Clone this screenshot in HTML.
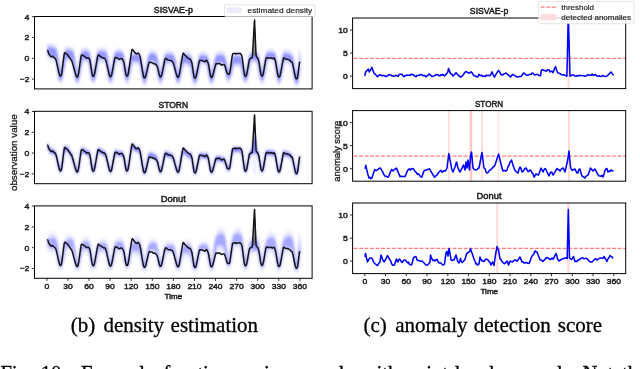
<!DOCTYPE html><html><head><meta charset="utf-8"><style>html,body{margin:0;padding:0;background:#fff;width:640px;height:369px;overflow:hidden}svg{display:block;will-change:transform}</style></head><body>
<svg width="640" height="369" viewBox="0 0 640 369" font-family="Liberation Sans, sans-serif">
<rect width="640" height="369" fill="#fff"/>
<defs><filter id="bl" x="-5%" y="-20%" width="110%" height="140%"><feGaussianBlur stdDeviation="0.9"/></filter></defs>
<g filter="url(#bl)">
<path d="M47.3,42.8 L48.3,42.8 L49.3,42.8 L50.3,42.8 L51.3,42.8 L52.3,43.0 L53.3,43.3 L54.3,43.6 L55.3,44.0 L56.3,45.1 L57.3,47.9 L58.3,52.7 L59.3,59.7 L60.3,67.2 L61.3,64.7 L62.3,58.5 L63.3,52.8 L64.3,48.8 L65.3,46.5 L66.3,45.7 L67.3,45.6 L68.3,45.6 L69.3,45.7 L70.3,45.9 L71.3,46.2 L72.3,46.6 L73.3,48.1 L74.3,51.2 L75.3,56.4 L76.3,63.6 L77.3,69.7 L78.3,64.0 L79.3,57.9 L80.3,52.6 L81.3,49.3 L82.3,47.4 L83.3,46.9 L84.3,46.8 L85.3,46.7 L86.3,46.8 L87.3,47.0 L88.3,47.3 L89.3,48.5 L90.3,51.4 L91.3,56.1 L92.3,62.8 L93.3,69.1 L94.3,64.2 L95.3,58.2 L96.3,52.9 L97.3,49.5 L98.3,47.5 L99.3,47.0 L100.3,46.8 L101.3,46.7 L102.3,46.7 L103.3,46.8 L104.3,47.0 L105.3,47.2 L106.3,48.2 L107.3,50.7 L108.3,55.1 L109.3,61.5 L110.3,68.3 L111.3,65.8 L112.3,59.9 L113.3,54.5 L114.3,50.8 L115.3,48.7 L116.3,47.9 L117.3,47.8 L118.3,47.8 L119.3,47.8 L120.3,48.0 L121.3,48.2 L122.3,48.6 L123.3,50.2 L124.3,53.3 L125.3,58.4 L126.3,65.0 L127.3,68.5 L128.3,63.7 L129.3,58.7 L130.3,54.5 L131.3,51.9 L132.3,50.6 L133.3,50.4 L134.3,50.3 L135.3,50.3 L136.3,50.3 L137.3,50.5 L138.3,50.7 L139.3,50.9 L140.3,51.8 L141.3,54.0 L142.3,58.1 L143.3,63.9 L144.3,70.0 L145.3,67.2 L146.3,61.5 L147.3,56.1 L148.3,52.4 L149.3,50.3 L150.3,49.5 L151.3,49.4 L152.3,49.3 L153.3,49.4 L154.3,49.6 L155.3,49.9 L156.3,50.8 L157.3,53.1 L158.3,57.2 L159.3,63.0 L160.3,69.0 L161.3,66.7 L162.3,61.4 L163.3,56.3 L164.3,52.8 L165.3,50.7 L166.3,50.0 L167.3,49.9 L168.3,49.8 L169.3,49.8 L170.3,49.9 L171.3,50.1 L172.3,50.3 L173.3,50.7 L174.3,52.3 L175.3,55.4 L176.3,60.4 L177.3,66.6 L178.3,69.6 L179.3,64.4 L180.3,59.1 L181.3,54.7 L182.3,51.9 L183.3,50.5 L184.3,50.3 L185.3,50.3 L186.3,50.3 L187.3,50.5 L188.3,50.8 L189.3,51.2 L190.3,51.7 L191.3,53.4 L192.3,56.6 L193.3,61.5 L194.3,67.5 L195.3,70.3 L196.3,65.1 L197.3,59.7 L198.3,55.3 L199.3,52.7 L200.3,51.4 L201.3,51.1 L202.3,51.1 L203.3,51.1 L204.3,51.2 L205.3,51.4 L206.3,51.6 L207.3,52.5 L208.3,54.6 L209.3,58.5 L210.3,64.0 L211.3,69.7 L212.3,67.4 L213.3,62.2 L214.3,57.2 L215.3,53.7 L216.3,51.7 L217.3,50.9 L218.3,50.8 L219.3,50.6 L220.3,50.5 L221.3,50.6 L222.3,50.8 L223.3,51.0 L224.3,51.8 L225.3,53.9 L226.3,57.5 L227.3,62.6 L228.3,67.5 L229.3,65.9 L230.3,61.6 L231.3,57.5 L232.3,54.5 L233.3,52.6 L234.3,51.9 L235.3,51.8 L236.3,51.6 L237.3,51.5 L238.3,51.6 L239.3,51.8 L240.3,52.0 L241.3,52.8 L242.3,54.9 L243.3,58.6 L244.3,63.8 L245.3,68.9 L246.3,66.1 L247.3,60.8 L248.3,55.7 L249.3,52.2 L250.3,50.3 L251.3,49.5 L252.3,49.4 L253.3,49.3 L254.3,49.2 L255.3,49.4 L256.3,49.5 L257.3,49.9 L258.3,51.4 L259.3,54.3 L260.3,59.2 L261.3,65.4 L262.3,68.1 L263.3,62.7 L264.3,57.1 L265.3,52.7 L266.3,50.1 L267.3,48.7 L268.3,48.5 L269.3,48.4 L270.3,48.3 L271.3,48.3 L272.3,48.5 L273.3,48.6 L274.3,48.9 L275.3,50.4 L276.3,53.5 L277.3,58.7 L278.3,65.5 L279.3,69.0 L280.3,63.2 L281.3,57.4 L282.3,52.8 L283.3,50.0 L284.3,48.7 L285.3,48.6 L286.3,48.9 L287.3,49.1 L288.3,49.4 L289.3,49.8 L290.3,50.3 L291.3,50.8 L292.3,51.9 L293.3,54.4 L294.3,58.6 L295.3,64.5 L296.3,70.8 L297.3,67.0 L298.3,61.8 L299.3,59.1 L299.8,58.8 L299.8,78.5 L299.3,81.2 L298.3,85.2 L297.3,87.3 L296.3,87.7 L295.3,86.7 L294.3,83.9 L293.3,79.2 L292.3,73.0 L291.3,67.1 L290.3,66.0 L289.3,65.7 L288.3,65.3 L287.3,64.9 L286.3,64.3 L285.3,63.7 L284.3,65.5 L283.3,71.4 L282.3,77.3 L281.3,81.9 L280.3,84.7 L279.3,85.9 L278.3,85.6 L277.3,83.6 L276.3,79.6 L275.3,73.6 L274.3,66.4 L273.3,62.2 L272.3,62.2 L271.3,62.2 L270.3,62.1 L269.3,61.9 L268.3,61.7 L267.3,64.5 L266.3,70.5 L265.3,76.3 L264.3,80.9 L263.3,83.7 L262.3,84.9 L261.3,84.6 L260.3,82.7 L259.3,79.1 L258.3,73.6 L257.3,67.3 L256.3,64.3 L255.3,64.3 L254.3,64.3 L253.3,64.1 L252.3,63.9 L251.3,63.8 L250.3,68.7 L249.3,74.2 L248.3,79.4 L247.3,82.9 L246.3,84.8 L245.3,85.2 L244.3,84.2 L243.3,81.7 L242.3,77.7 L241.3,72.4 L240.3,68.1 L239.3,68.0 L238.3,68.0 L237.3,68.0 L236.3,67.8 L235.3,67.5 L234.3,67.2 L233.3,70.3 L232.3,74.6 L231.3,78.7 L230.3,81.6 L229.3,83.4 L228.3,83.7 L227.3,82.8 L226.3,80.3 L225.3,76.3 L224.3,71.2 L223.3,67.0 L222.3,67.0 L221.3,67.0 L220.3,67.0 L219.3,66.8 L218.3,66.5 L217.3,66.2 L216.3,70.5 L215.3,75.7 L214.3,80.6 L213.3,84.0 L212.3,85.8 L211.3,86.2 L210.3,85.2 L209.3,82.5 L208.3,78.0 L207.3,72.1 L206.3,66.7 L205.3,66.1 L204.3,66.0 L203.3,65.9 L202.3,65.6 L201.3,65.3 L200.3,67.4 L199.3,73.0 L198.3,78.6 L197.3,83.0 L196.3,85.7 L195.3,86.9 L194.3,86.6 L193.3,84.8 L192.3,81.4 L191.3,76.2 L190.3,70.4 L189.3,68.0 L188.3,67.9 L187.3,67.7 L186.3,67.4 L185.3,67.0 L184.3,66.5 L183.3,67.7 L182.3,72.9 L181.3,78.2 L180.3,82.4 L179.3,85.1 L178.3,86.2 L177.3,85.9 L176.3,84.1 L175.3,80.5 L174.3,75.1 L173.3,69.0 L172.3,66.3 L171.3,66.3 L170.3,66.3 L169.3,66.2 L168.3,65.9 L167.3,65.6 L166.3,65.3 L165.3,69.7 L164.3,75.0 L163.3,80.0 L162.3,83.4 L161.3,85.3 L160.3,85.7 L159.3,84.7 L158.3,82.0 L157.3,77.5 L156.3,71.6 L155.3,66.2 L154.3,65.8 L153.3,65.8 L152.3,65.6 L151.3,65.2 L150.3,64.9 L149.3,69.8 L148.3,75.5 L147.3,80.8 L146.3,84.4 L145.3,86.3 L144.3,86.7 L143.3,85.7 L142.3,82.9 L141.3,78.3 L140.3,72.2 L139.3,66.5 L138.3,65.9 L137.3,65.8 L136.3,65.8 L135.3,65.6 L134.3,65.3 L133.3,65.0 L132.3,66.6 L131.3,71.8 L130.3,77.0 L129.3,81.1 L128.3,83.8 L127.3,84.9 L126.3,84.6 L125.3,82.7 L124.3,78.9 L123.3,73.3 L122.3,66.7 L121.3,63.4 L120.3,63.3 L119.3,63.3 L118.3,63.0 L117.3,62.7 L116.3,62.6 L115.3,67.9 L114.3,74.0 L113.3,79.4 L112.3,83.1 L111.3,85.1 L110.3,85.5 L109.3,84.4 L108.3,81.6 L107.3,76.8 L106.3,70.2 L105.3,64.1 L104.3,63.6 L103.3,63.6 L102.3,63.5 L101.3,63.3 L100.3,63.0 L99.3,62.7 L98.3,66.6 L97.3,72.6 L96.3,78.2 L95.3,82.2 L94.3,84.5 L93.3,85.3 L92.3,84.5 L91.3,82.0 L90.3,77.7 L89.3,71.4 L88.3,65.0 L87.3,63.6 L86.3,63.6 L85.3,63.4 L84.3,63.2 L83.3,62.8 L82.3,66.3 L81.3,72.4 L80.3,78.2 L79.3,82.5 L78.3,85.0 L77.3,86.0 L76.3,85.3 L75.3,83.0 L74.3,78.7 L73.3,72.3 L72.3,65.4 L71.3,63.1 L70.3,63.0 L69.3,62.9 L68.3,62.6 L67.3,62.2 L66.3,61.8 L65.3,67.0 L64.3,73.2 L63.3,78.7 L62.3,82.5 L61.3,84.5 L60.3,84.9 L59.3,83.8 L58.3,80.9 L57.3,75.8 L56.3,68.8 L55.3,62.2 L54.3,61.5 L53.3,61.4 L52.3,61.2 L51.3,60.9 L50.3,60.5 L49.3,60.1 L48.3,59.6 L47.3,59.3Z" fill="#3a3aff" fill-opacity="0.09" transform="translate(0,0.0)"/>
<path d="M47.3,45.0 L48.3,45.0 L49.3,45.0 L50.3,45.0 L51.3,45.0 L52.3,45.2 L53.3,45.5 L54.3,45.8 L55.3,46.2 L56.3,47.3 L57.3,50.2 L58.3,55.4 L59.3,62.9 L60.3,69.9 L61.3,67.5 L62.3,61.3 L63.3,55.3 L64.3,51.1 L65.3,48.8 L66.3,47.9 L67.3,47.8 L68.3,47.8 L69.3,47.9 L70.3,48.1 L71.3,48.4 L72.3,48.8 L73.3,50.3 L74.3,53.8 L75.3,59.3 L76.3,66.6 L77.3,72.2 L78.3,66.7 L79.3,60.6 L80.3,55.1 L81.3,51.6 L82.3,49.6 L83.3,49.1 L84.3,49.0 L85.3,48.9 L86.3,49.0 L87.3,49.2 L88.3,49.5 L89.3,50.8 L90.3,53.8 L91.3,58.8 L92.3,65.7 L93.3,71.6 L94.3,66.9 L95.3,60.9 L96.3,55.4 L97.3,51.8 L98.3,49.8 L99.3,49.2 L100.3,49.0 L101.3,48.9 L102.3,48.9 L103.3,49.0 L104.3,49.2 L105.3,49.4 L106.3,50.5 L107.3,53.0 L108.3,57.7 L109.3,64.5 L110.3,70.9 L111.3,68.5 L112.3,62.6 L113.3,56.9 L114.3,53.0 L115.3,50.9 L116.3,50.1 L117.3,50.0 L118.3,50.0 L119.3,50.0 L120.3,50.2 L121.3,50.4 L122.3,50.8 L123.3,52.5 L124.3,55.8 L125.3,61.3 L126.3,67.8 L127.3,70.9 L128.3,66.2 L129.3,61.1 L130.3,56.8 L131.3,54.1 L132.3,52.8 L133.3,52.6 L134.3,52.5 L135.3,52.5 L136.3,52.5 L137.3,52.7 L138.3,52.9 L139.3,53.1 L140.3,54.0 L141.3,56.3 L142.3,60.5 L143.3,66.7 L144.3,72.4 L145.3,69.8 L146.3,64.1 L147.3,58.5 L148.3,54.7 L149.3,52.5 L150.3,51.7 L151.3,51.6 L152.3,51.5 L153.3,51.6 L154.3,51.8 L155.3,52.1 L156.3,53.0 L157.3,55.4 L158.3,59.7 L159.3,65.8 L160.3,71.5 L161.3,69.2 L162.3,63.9 L163.3,58.7 L164.3,55.1 L165.3,53.0 L166.3,52.2 L167.3,52.1 L168.3,52.0 L169.3,52.0 L170.3,52.1 L171.3,52.3 L172.3,52.5 L173.3,52.9 L174.3,54.5 L175.3,57.9 L176.3,63.2 L177.3,69.4 L178.3,72.0 L179.3,67.0 L180.3,61.6 L181.3,57.0 L182.3,54.1 L183.3,52.7 L184.3,52.5 L185.3,52.5 L186.3,52.5 L187.3,52.7 L188.3,53.0 L189.3,53.4 L190.3,53.9 L191.3,55.6 L192.3,59.0 L193.3,64.2 L194.3,70.2 L195.3,72.7 L196.3,67.6 L197.3,62.2 L198.3,57.7 L199.3,54.9 L200.3,53.6 L201.3,53.3 L202.3,53.3 L203.3,53.3 L204.3,53.4 L205.3,53.6 L206.3,53.8 L207.3,54.7 L208.3,56.9 L209.3,60.9 L210.3,66.7 L211.3,72.1 L212.3,69.9 L213.3,64.7 L214.3,59.6 L215.3,56.0 L216.3,53.9 L217.3,53.1 L218.3,53.0 L219.3,52.8 L220.3,52.7 L221.3,52.8 L222.3,53.0 L223.3,53.2 L224.3,54.0 L225.3,56.2 L226.3,60.0 L227.3,65.1 L228.3,69.9 L229.3,68.3 L230.3,64.1 L231.3,59.9 L232.3,56.7 L233.3,54.8 L234.3,54.1 L235.3,54.0 L236.3,53.8 L237.3,53.7 L238.3,53.8 L239.3,54.0 L240.3,54.2 L241.3,55.0 L242.3,57.3 L243.3,61.1 L244.3,66.4 L245.3,71.3 L246.3,68.7 L247.3,63.3 L248.3,58.1 L249.3,54.5 L250.3,52.5 L251.3,51.7 L252.3,51.6 L253.3,51.5 L254.3,51.4 L255.3,51.6 L256.3,51.7 L257.3,52.1 L258.3,53.6 L259.3,56.8 L260.3,61.9 L261.3,68.1 L262.3,70.6 L263.3,65.3 L264.3,59.7 L265.3,55.0 L266.3,52.3 L267.3,50.9 L268.3,50.7 L269.3,50.6 L270.3,50.5 L271.3,50.5 L272.3,50.7 L273.3,50.8 L274.3,51.1 L275.3,52.6 L276.3,55.9 L277.3,61.6 L278.3,68.5 L279.3,71.4 L280.3,65.9 L281.3,60.1 L282.3,55.2 L283.3,52.2 L284.3,50.9 L285.3,50.8 L286.3,51.1 L287.3,51.3 L288.3,51.6 L289.3,52.0 L290.3,52.5 L291.3,53.0 L292.3,54.1 L293.3,56.6 L294.3,61.1 L295.3,67.4 L296.3,73.3 L297.3,69.8 L298.3,64.3 L299.3,61.3 L299.8,61.0 L299.8,75.8 L299.3,78.7 L298.3,82.9 L297.3,85.1 L296.3,85.5 L295.3,84.4 L294.3,81.5 L293.3,76.6 L292.3,70.1 L291.3,64.7 L290.3,63.8 L289.3,63.4 L288.3,63.1 L287.3,62.6 L286.3,62.1 L285.3,61.5 L284.3,62.9 L283.3,68.7 L282.3,74.7 L281.3,79.5 L280.3,82.5 L279.3,83.7 L278.3,83.4 L277.3,81.3 L276.3,77.1 L275.3,70.6 L274.3,63.6 L273.3,60.0 L272.3,60.0 L271.3,60.0 L270.3,59.9 L269.3,59.7 L268.3,59.5 L267.3,62.0 L266.3,67.8 L265.3,73.7 L264.3,78.5 L263.3,81.5 L262.3,82.7 L261.3,82.4 L260.3,80.4 L259.3,76.6 L258.3,70.8 L257.3,64.7 L256.3,62.1 L255.3,62.1 L254.3,62.1 L253.3,61.9 L252.3,61.7 L251.3,61.6 L250.3,66.1 L249.3,71.6 L248.3,76.9 L247.3,80.6 L246.3,82.6 L245.3,83.0 L244.3,82.0 L243.3,79.4 L242.3,75.2 L241.3,69.8 L240.3,65.8 L239.3,65.8 L238.3,65.8 L237.3,65.8 L236.3,65.6 L235.3,65.3 L234.3,65.0 L233.3,67.8 L232.3,72.1 L231.3,76.3 L230.3,79.4 L229.3,81.2 L228.3,81.5 L227.3,80.5 L226.3,78.0 L225.3,73.8 L224.3,68.6 L223.3,64.8 L222.3,64.8 L221.3,64.8 L220.3,64.8 L219.3,64.6 L218.3,64.3 L217.3,64.0 L216.3,67.9 L215.3,73.2 L214.3,78.1 L213.3,81.7 L212.3,83.6 L211.3,84.0 L210.3,83.0 L209.3,80.1 L208.3,75.5 L207.3,69.4 L206.3,64.4 L205.3,63.9 L204.3,63.8 L203.3,63.7 L202.3,63.4 L201.3,63.1 L200.3,64.9 L199.3,70.4 L198.3,76.1 L197.3,80.6 L196.3,83.5 L195.3,84.7 L194.3,84.4 L193.3,82.5 L192.3,78.9 L191.3,73.5 L190.3,67.9 L189.3,65.8 L188.3,65.7 L187.3,65.5 L186.3,65.2 L185.3,64.8 L184.3,64.3 L183.3,65.3 L182.3,70.4 L181.3,75.7 L180.3,80.1 L179.3,82.9 L178.3,84.0 L177.3,83.7 L176.3,81.8 L175.3,78.0 L174.3,72.4 L173.3,66.4 L172.3,64.1 L171.3,64.1 L170.3,64.1 L169.3,64.0 L168.3,63.7 L167.3,63.4 L166.3,63.1 L165.3,67.1 L164.3,72.5 L163.3,77.5 L162.3,81.2 L161.3,83.1 L160.3,83.5 L159.3,82.5 L158.3,79.6 L157.3,74.9 L156.3,68.8 L155.3,63.9 L154.3,63.6 L153.3,63.6 L152.3,63.4 L151.3,63.0 L150.3,62.6 L149.3,67.1 L148.3,72.9 L147.3,78.3 L146.3,82.1 L145.3,84.1 L144.3,84.5 L143.3,83.4 L142.3,80.5 L141.3,75.7 L140.3,69.4 L139.3,64.2 L138.3,63.7 L137.3,63.6 L136.3,63.6 L135.3,63.4 L134.3,63.1 L133.3,62.8 L132.3,64.2 L131.3,69.3 L130.3,74.5 L129.3,78.8 L128.3,81.6 L127.3,82.7 L126.3,82.4 L125.3,80.4 L124.3,76.5 L123.3,70.4 L122.3,64.0 L121.3,61.2 L120.3,61.1 L119.3,61.1 L118.3,60.8 L117.3,60.5 L116.3,60.4 L115.3,65.2 L114.3,71.2 L113.3,76.9 L112.3,80.8 L111.3,82.9 L110.3,83.3 L109.3,82.2 L108.3,79.2 L107.3,74.1 L106.3,67.3 L105.3,61.7 L104.3,61.4 L103.3,61.4 L102.3,61.3 L101.3,61.1 L100.3,60.8 L99.3,60.5 L98.3,63.9 L97.3,69.9 L96.3,75.7 L95.3,80.0 L94.3,82.3 L93.3,83.1 L92.3,82.3 L91.3,79.7 L90.3,75.1 L89.3,68.5 L88.3,62.5 L87.3,61.4 L86.3,61.4 L85.3,61.2 L84.3,60.9 L83.3,60.6 L82.3,63.5 L81.3,69.6 L80.3,75.7 L79.3,80.2 L78.3,82.8 L77.3,83.8 L76.3,83.1 L75.3,80.7 L74.3,76.1 L73.3,69.3 L72.3,62.7 L71.3,60.9 L70.3,60.8 L69.3,60.7 L68.3,60.4 L67.3,60.0 L66.3,59.5 L65.3,64.3 L64.3,70.4 L63.3,76.2 L62.3,80.2 L61.3,82.3 L60.3,82.7 L59.3,81.6 L58.3,78.4 L57.3,73.0 L56.3,65.7 L55.3,59.8 L54.3,59.3 L53.3,59.2 L52.3,59.0 L51.3,58.7 L50.3,58.3 L49.3,57.9 L48.3,57.4 L47.3,57.1Z" fill="#3a3aff" fill-opacity="0.15" transform="translate(0,0.0)"/>
<path d="M47.3,47.5 L48.3,47.5 L49.3,47.5 L50.3,47.5 L51.3,47.6 L52.3,47.8 L53.3,48.1 L54.3,48.4 L55.3,48.7 L56.3,49.8 L57.3,52.9 L58.3,58.5 L59.3,66.1 L60.3,72.5 L61.3,70.2 L62.3,64.1 L63.3,57.9 L64.3,53.5 L65.3,51.1 L66.3,50.3 L67.3,50.3 L68.3,50.3 L69.3,50.4 L70.3,50.6 L71.3,50.9 L72.3,51.2 L73.3,52.8 L74.3,56.3 L75.3,62.5 L76.3,69.7 L77.3,74.5 L78.3,69.6 L79.3,63.4 L80.3,57.5 L81.3,53.9 L82.3,52.0 L83.3,51.5 L84.3,51.4 L85.3,51.4 L86.3,51.4 L87.3,51.7 L88.3,51.9 L89.3,53.2 L90.3,56.2 L91.3,61.9 L92.3,68.7 L93.3,74.0 L94.3,69.7 L95.3,63.7 L96.3,57.9 L97.3,54.1 L98.3,52.1 L99.3,51.5 L100.3,51.4 L101.3,51.4 L102.3,51.4 L103.3,51.5 L104.3,51.7 L105.3,51.9 L106.3,52.8 L107.3,55.5 L108.3,60.6 L109.3,67.5 L110.3,73.4 L111.3,71.1 L112.3,65.3 L113.3,59.4 L114.3,55.2 L115.3,53.1 L116.3,52.4 L117.3,52.3 L118.3,52.3 L119.3,52.4 L120.3,52.5 L121.3,52.8 L122.3,53.1 L123.3,54.7 L124.3,58.2 L125.3,64.2 L126.3,70.5 L127.3,73.2 L128.3,68.7 L129.3,63.7 L130.3,59.0 L131.3,56.3 L132.3,55.1 L133.3,54.9 L134.3,54.8 L135.3,54.8 L136.3,54.9 L137.3,55.0 L138.3,55.2 L139.3,55.4 L140.3,56.3 L141.3,58.6 L142.3,63.2 L143.3,69.5 L144.3,74.8 L145.3,72.4 L146.3,66.8 L147.3,61.1 L148.3,57.0 L149.3,54.8 L150.3,54.0 L151.3,53.9 L152.3,53.9 L153.3,54.0 L154.3,54.2 L155.3,54.5 L156.3,55.4 L157.3,57.9 L158.3,62.4 L159.3,68.6 L160.3,73.9 L161.3,71.8 L162.3,66.5 L163.3,61.2 L164.3,57.4 L165.3,55.3 L166.3,54.5 L167.3,54.5 L168.3,54.4 L169.3,54.4 L170.3,54.5 L171.3,54.7 L172.3,54.9 L173.3,55.3 L174.3,56.9 L175.3,60.3 L176.3,66.0 L177.3,72.0 L178.3,74.3 L179.3,69.6 L180.3,64.3 L181.3,59.4 L182.3,56.4 L183.3,55.1 L184.3,54.9 L185.3,54.9 L186.3,55.0 L187.3,55.2 L188.3,55.5 L189.3,55.9 L190.3,56.4 L191.3,58.1 L192.3,61.5 L193.3,67.1 L194.3,72.9 L195.3,75.0 L196.3,70.3 L197.3,64.8 L198.3,59.9 L199.3,57.0 L200.3,55.8 L201.3,55.6 L202.3,55.6 L203.3,55.6 L204.3,55.7 L205.3,55.9 L206.3,56.1 L207.3,56.9 L208.3,59.1 L209.3,63.5 L210.3,69.5 L211.3,74.5 L212.3,72.4 L213.3,67.3 L214.3,62.1 L215.3,58.3 L216.3,56.2 L217.3,55.5 L218.3,55.3 L219.3,55.2 L220.3,55.2 L221.3,55.2 L222.3,55.4 L223.3,55.6 L224.3,56.4 L225.3,58.6 L226.3,62.5 L227.3,67.8 L228.3,72.2 L229.3,70.6 L230.3,66.4 L231.3,62.2 L232.3,59.0 L233.3,57.1 L234.3,56.5 L235.3,56.3 L236.3,56.2 L237.3,56.2 L238.3,56.2 L239.3,56.4 L240.3,56.6 L241.3,57.4 L242.3,59.7 L243.3,63.6 L244.3,69.1 L245.3,73.7 L246.3,71.2 L247.3,65.9 L248.3,60.5 L249.3,56.6 L250.3,54.7 L251.3,54.0 L252.3,53.9 L253.3,53.8 L254.3,53.8 L255.3,53.9 L256.3,54.0 L257.3,54.4 L258.3,55.8 L259.3,59.1 L260.3,64.8 L261.3,70.8 L262.3,72.9 L263.3,68.0 L264.3,62.3 L265.3,57.2 L266.3,54.3 L267.3,53.1 L268.3,52.9 L269.3,52.8 L270.3,52.7 L271.3,52.8 L272.3,52.9 L273.3,53.0 L274.3,53.3 L275.3,54.7 L276.3,58.2 L277.3,64.6 L278.3,71.2 L279.3,73.8 L280.3,68.7 L281.3,62.8 L282.3,57.4 L283.3,54.5 L284.3,53.2 L285.3,53.2 L286.3,53.4 L287.3,53.7 L288.3,54.0 L289.3,54.4 L290.3,54.9 L291.3,55.4 L292.3,56.4 L293.3,59.0 L294.3,63.8 L295.3,70.3 L296.3,75.8 L297.3,72.7 L298.3,66.7 L299.3,63.6 L299.8,63.3 L299.8,72.8 L299.3,76.0 L298.3,80.6 L297.3,82.8 L296.3,83.2 L295.3,82.1 L294.3,79.2 L293.3,73.7 L292.3,67.2 L291.3,62.4 L290.3,61.4 L289.3,61.1 L288.3,60.7 L287.3,60.3 L286.3,59.7 L285.3,59.2 L284.3,60.5 L283.3,66.0 L282.3,71.9 L281.3,77.2 L280.3,80.2 L279.3,81.4 L278.3,81.1 L277.3,79.0 L276.3,74.4 L275.3,67.5 L274.3,60.9 L273.3,57.8 L272.3,57.8 L271.3,57.8 L270.3,57.7 L269.3,57.5 L268.3,57.3 L267.3,59.6 L266.3,65.0 L265.3,71.0 L264.3,76.2 L263.3,79.2 L262.3,80.4 L261.3,80.1 L260.3,78.1 L259.3,74.1 L258.3,68.0 L257.3,62.2 L256.3,59.8 L255.3,59.8 L254.3,59.8 L253.3,59.6 L252.3,59.4 L251.3,59.4 L250.3,63.4 L249.3,69.0 L248.3,74.4 L247.3,78.3 L246.3,80.3 L245.3,80.7 L244.3,79.7 L243.3,77.1 L242.3,72.6 L241.3,67.2 L240.3,63.5 L239.3,63.3 L238.3,63.4 L237.3,63.3 L236.3,63.2 L235.3,62.9 L234.3,62.7 L233.3,65.4 L232.3,69.7 L231.3,74.0 L230.3,77.1 L229.3,78.9 L228.3,79.2 L227.3,78.2 L226.3,75.7 L225.3,71.2 L224.3,66.0 L223.3,62.4 L222.3,62.3 L221.3,62.4 L220.3,62.3 L219.3,62.2 L218.3,61.9 L217.3,61.7 L216.3,65.3 L215.3,70.6 L214.3,75.7 L213.3,79.3 L212.3,81.3 L211.3,81.7 L210.3,80.7 L209.3,77.8 L208.3,72.7 L207.3,66.6 L206.3,62.1 L205.3,61.6 L204.3,61.5 L203.3,61.4 L202.3,61.1 L201.3,60.8 L200.3,62.6 L199.3,67.8 L198.3,73.4 L197.3,78.3 L196.3,81.2 L195.3,82.4 L194.3,82.1 L193.3,80.2 L192.3,76.4 L191.3,70.8 L190.3,65.4 L189.3,63.4 L188.3,63.2 L187.3,63.0 L186.3,62.7 L185.3,62.4 L184.3,61.9 L183.3,62.9 L182.3,67.8 L181.3,73.1 L180.3,77.7 L179.3,80.6 L178.3,81.7 L177.3,81.4 L176.3,79.4 L175.3,75.5 L174.3,69.5 L173.3,63.9 L172.3,61.7 L171.3,61.7 L170.3,61.7 L169.3,61.5 L168.3,61.3 L167.3,61.0 L166.3,60.8 L165.3,64.5 L164.3,69.8 L163.3,75.1 L162.3,78.8 L161.3,80.8 L160.3,81.2 L159.3,80.2 L158.3,77.3 L157.3,72.1 L156.3,66.0 L155.3,61.6 L154.3,61.2 L153.3,61.1 L152.3,61.0 L151.3,60.6 L150.3,60.4 L149.3,64.4 L148.3,70.1 L147.3,75.8 L146.3,79.7 L145.3,81.8 L144.3,82.2 L143.3,81.2 L142.3,78.2 L141.3,72.8 L140.3,66.5 L139.3,61.9 L138.3,61.3 L137.3,61.3 L136.3,61.2 L135.3,61.0 L134.3,60.8 L133.3,60.5 L132.3,62.0 L131.3,66.7 L130.3,71.9 L129.3,76.5 L128.3,79.3 L127.3,80.4 L126.3,80.1 L125.3,78.1 L124.3,73.9 L123.3,67.5 L122.3,61.4 L121.3,58.8 L120.3,58.8 L119.3,58.7 L118.3,58.5 L117.3,58.2 L116.3,58.2 L115.3,62.4 L114.3,68.5 L113.3,74.4 L112.3,78.5 L111.3,80.6 L110.3,81.0 L109.3,79.9 L108.3,76.8 L107.3,71.1 L106.3,64.2 L105.3,59.3 L104.3,58.9 L103.3,58.9 L102.3,58.9 L101.3,58.7 L100.3,58.4 L99.3,58.1 L98.3,61.3 L97.3,67.1 L96.3,73.0 L95.3,77.6 L94.3,80.0 L93.3,80.8 L92.3,79.9 L91.3,77.4 L90.3,72.2 L89.3,65.5 L88.3,60.0 L87.3,58.9 L86.3,58.9 L85.3,58.8 L84.3,58.5 L83.3,58.2 L82.3,60.9 L81.3,66.8 L80.3,72.9 L79.3,77.9 L78.3,80.5 L77.3,81.4 L76.3,80.8 L75.3,78.3 L74.3,73.2 L73.3,66.2 L72.3,60.2 L71.3,58.4 L70.3,58.3 L69.3,58.2 L68.3,57.9 L67.3,57.5 L66.3,57.2 L65.3,61.4 L64.3,67.6 L63.3,73.6 L62.3,77.9 L61.3,80.0 L60.3,80.4 L59.3,79.3 L58.3,76.0 L57.3,69.9 L56.3,62.5 L55.3,57.3 L54.3,56.7 L53.3,56.6 L52.3,56.5 L51.3,56.2 L50.3,55.8 L49.3,55.4 L48.3,55.0 L47.3,54.7Z" fill="#3a3aff" fill-opacity="0.4" transform="translate(0,0.0)"/>
<path d="M298.0,64 L299.6,49 L301.0,64Z" fill="#3a3aff" fill-opacity="0.35"/>
<path d="M47.3,45.4 L48.3,44.7 L49.3,43.8 L50.3,42.9 L51.3,42.3 L52.3,42.0 L53.3,42.3 L54.3,42.7 L55.3,43.1 L56.3,44.4 L57.3,47.3 L58.3,52.4 L59.3,59.5 L60.3,66.9 L61.3,64.8 L62.3,58.9 L63.3,53.5 L64.3,49.6 L65.3,47.2 L66.3,46.1 L67.3,45.3 L68.3,44.6 L69.3,44.2 L70.3,44.3 L71.3,44.7 L72.3,45.1 L73.3,46.7 L74.3,50.0 L75.3,55.4 L76.3,62.8 L77.3,69.7 L78.3,64.5 L79.3,59.0 L80.3,54.2 L81.3,51.0 L82.3,49.1 L83.3,48.1 L84.3,47.3 L85.3,46.8 L86.3,46.7 L87.3,47.0 L88.3,47.4 L89.3,48.7 L90.3,51.7 L91.3,56.3 L92.3,62.7 L93.3,69.0 L94.3,65.3 L95.3,60.3 L96.3,55.8 L97.3,52.8 L98.3,51.0 L99.3,50.1 L100.3,49.5 L101.3,48.9 L102.3,48.6 L103.3,48.6 L104.3,48.9 L105.3,49.2 L106.3,50.2 L107.3,52.5 L108.3,56.6 L109.3,62.4 L110.3,68.5 L111.3,66.0 L112.3,60.6 L113.3,55.6 L114.3,52.1 L115.3,49.9 L116.3,48.9 L117.3,48.2 L118.3,47.5 L119.3,47.3 L120.3,47.4 L121.3,47.7 L122.3,48.2 L123.3,49.9 L124.3,53.1 L125.3,58.2 L126.3,64.7 L127.3,68.2 L128.3,63.1 L129.3,57.8 L130.3,53.4 L131.3,50.3 L132.3,48.5 L133.3,47.6 L134.3,46.6 L135.3,45.8 L136.3,45.5 L137.3,45.7 L138.3,46.1 L139.3,46.5 L140.3,47.7 L141.3,50.6 L142.3,55.4 L143.3,62.1 L144.3,69.0 L145.3,67.1 L146.3,61.6 L147.3,56.5 L148.3,52.9 L149.3,50.7 L150.3,49.6 L151.3,48.8 L152.3,48.3 L153.3,48.1 L154.3,48.3 L155.3,48.7 L156.3,49.7 L157.3,52.1 L158.3,56.3 L159.3,62.2 L160.3,68.5 L161.3,67.2 L162.3,62.5 L163.3,58.1 L164.3,55.0 L165.3,53.1 L166.3,52.3 L167.3,51.7 L168.3,51.2 L169.3,50.9 L170.3,50.8 L171.3,51.0 L172.3,51.2 L173.3,51.6 L174.3,53.2 L175.3,56.0 L176.3,60.7 L177.3,66.6 L178.3,69.9 L179.3,65.2 L180.3,60.4 L181.3,56.4 L182.3,53.7 L183.3,52.1 L184.3,51.3 L185.3,50.5 L186.3,49.9 L187.3,49.6 L188.3,49.9 L189.3,50.3 L190.3,50.8 L191.3,52.5 L192.3,55.8 L193.3,60.9 L194.3,67.1 L195.3,70.2 L196.3,65.1 L197.3,59.9 L198.3,55.9 L199.3,53.4 L200.3,52.0 L201.3,51.4 L202.3,50.9 L203.3,50.6 L204.3,50.5 L205.3,50.7 L206.3,51.0 L207.3,51.8 L208.3,54.0 L209.3,57.7 L210.3,63.3 L211.3,69.3 L212.3,64.1 L213.3,56.7 L214.3,49.9 L215.3,45.0 L216.3,41.8 L217.3,40.3 L218.3,39.1 L219.3,37.9 L220.3,37.4 L221.3,37.4 L222.3,37.9 L223.3,38.5 L224.3,39.9 L225.3,43.3 L226.3,49.0 L227.3,56.9 L228.3,65.1 L229.3,62.2 L230.3,55.2 L231.3,48.8 L232.3,44.3 L233.3,41.4 L234.3,40.1 L235.3,39.1 L236.3,38.1 L237.3,37.6 L238.3,37.7 L239.3,38.1 L240.3,38.5 L241.3,39.9 L242.3,43.2 L243.3,48.8 L244.3,57.2 L245.3,66.1 L246.3,65.2 L247.3,59.4 L248.3,54.0 L249.3,50.2 L250.3,47.9 L251.3,46.8 L252.3,46.1 L253.3,45.4 L254.3,45.1 L255.3,45.2 L256.3,45.6 L257.3,46.1 L258.3,47.9 L259.3,51.3 L260.3,56.8 L261.3,63.9 L262.3,67.5 L263.3,61.4 L264.3,55.3 L265.3,50.3 L266.3,46.9 L267.3,44.8 L268.3,43.7 L269.3,42.6 L270.3,41.8 L271.3,41.6 L272.3,41.9 L273.3,42.4 L274.3,43.1 L275.3,45.3 L276.3,49.5 L277.3,55.9 L278.3,63.9 L279.3,68.1 L280.3,61.6 L281.3,55.0 L282.3,49.7 L283.3,46.1 L284.3,43.9 L285.3,42.9 L286.3,41.8 L287.3,40.9 L288.3,40.5 L289.3,40.7 L290.3,41.1 L291.3,41.6 L292.3,43.0 L293.3,46.4 L294.3,52.2 L295.3,60.3 L296.3,68.8 L297.3,64.6 L298.3,58.5 L299.3,55.3 L299.8,55.0 L299.8,76.3 L299.3,79.0 L298.3,82.7 L297.3,84.6 L296.3,85.0 L295.3,84.0 L294.3,81.5 L293.3,76.7 L292.3,69.9 L291.3,64.8 L290.3,65.3 L289.3,65.7 L288.3,65.9 L287.3,65.5 L286.3,64.6 L285.3,63.5 L284.3,63.8 L283.3,69.6 L282.3,75.3 L281.3,79.6 L280.3,82.1 L279.3,83.2 L278.3,82.9 L277.3,81.3 L276.3,77.8 L275.3,72.4 L274.3,66.1 L273.3,65.0 L272.3,65.5 L271.3,65.8 L270.3,65.6 L269.3,64.8 L268.3,63.7 L267.3,63.8 L266.3,69.2 L265.3,74.6 L264.3,78.7 L263.3,81.1 L262.3,82.2 L261.3,81.9 L260.3,80.2 L259.3,76.8 L258.3,71.5 L257.3,65.1 L256.3,62.8 L255.3,63.2 L254.3,63.3 L253.3,63.0 L252.3,62.3 L251.3,61.6 L250.3,66.3 L249.3,72.0 L248.3,77.0 L247.3,80.4 L246.3,82.1 L245.3,82.5 L244.3,81.5 L243.3,78.8 L242.3,73.7 L241.3,66.3 L240.3,59.7 L239.3,60.1 L238.3,60.5 L237.3,60.6 L236.3,60.1 L235.3,59.1 L234.3,58.1 L233.3,63.1 L232.3,69.5 L231.3,75.2 L230.3,78.7 L229.3,80.6 L228.3,81.0 L227.3,80.0 L226.3,77.6 L225.3,73.1 L224.3,66.7 L223.3,62.5 L222.3,63.1 L221.3,63.6 L220.3,63.6 L219.3,63.1 L218.3,61.9 L217.3,60.7 L216.3,65.3 L215.3,71.9 L214.3,77.6 L213.3,81.2 L212.3,83.1 L211.3,83.5 L210.3,82.5 L209.3,80.2 L208.3,76.0 L207.3,70.3 L206.3,64.9 L205.3,64.7 L204.3,64.9 L203.3,64.8 L202.3,64.5 L201.3,64.0 L200.3,66.1 L199.3,71.4 L198.3,76.7 L197.3,80.7 L196.3,83.1 L195.3,84.2 L194.3,83.9 L193.3,82.4 L192.3,79.4 L191.3,74.8 L190.3,69.7 L189.3,68.7 L188.3,69.1 L187.3,69.4 L186.3,69.1 L185.3,68.5 L184.3,67.7 L183.3,68.0 L182.3,72.3 L181.3,76.7 L180.3,80.3 L179.3,82.5 L178.3,83.5 L177.3,83.2 L176.3,81.6 L175.3,78.5 L174.3,73.7 L173.3,68.1 L172.3,66.0 L171.3,66.2 L170.3,66.4 L169.3,66.3 L168.3,66.0 L167.3,65.5 L166.3,64.9 L165.3,68.9 L164.3,73.7 L163.3,78.0 L162.3,81.0 L161.3,82.6 L160.3,83.0 L159.3,82.1 L158.3,79.7 L157.3,75.6 L156.3,69.9 L155.3,65.0 L154.3,65.3 L153.3,65.5 L152.3,65.3 L151.3,64.8 L150.3,64.0 L149.3,68.4 L148.3,73.9 L147.3,78.6 L146.3,81.9 L145.3,83.6 L144.3,84.0 L143.3,83.1 L142.3,80.8 L141.3,76.7 L140.3,71.1 L139.3,67.3 L138.3,67.7 L137.3,68.1 L136.3,68.3 L135.3,68.0 L134.3,67.2 L133.3,66.2 L132.3,66.1 L131.3,70.6 L130.3,75.3 L129.3,79.0 L128.3,81.2 L127.3,82.2 L126.3,81.9 L125.3,80.3 L124.3,77.0 L123.3,72.0 L122.3,66.1 L121.3,64.1 L120.3,64.4 L119.3,64.5 L118.3,64.3 L117.3,63.6 L116.3,62.9 L115.3,67.4 L114.3,72.7 L113.3,77.5 L112.3,80.7 L111.3,82.4 L110.3,82.8 L109.3,81.9 L108.3,79.6 L107.3,75.5 L106.3,70.0 L105.3,65.2 L104.3,65.5 L103.3,65.8 L102.3,65.8 L101.3,65.5 L100.3,64.9 L99.3,64.3 L98.3,67.1 L97.3,72.0 L96.3,76.6 L95.3,80.0 L94.3,81.9 L93.3,82.5 L92.3,81.8 L91.3,79.8 L90.3,76.0 L89.3,70.5 L88.3,65.0 L87.3,64.8 L86.3,65.1 L85.3,65.0 L84.3,64.5 L83.3,63.7 L82.3,66.0 L81.3,71.5 L80.3,76.6 L79.3,80.3 L78.3,82.4 L77.3,83.2 L76.3,82.6 L75.3,80.6 L74.3,76.7 L73.3,70.7 L72.3,64.1 L71.3,62.9 L70.3,63.3 L69.3,63.4 L68.3,63.0 L67.3,62.3 L66.3,61.5 L65.3,66.1 L64.3,71.7 L63.3,76.7 L62.3,80.1 L61.3,81.8 L60.3,82.2 L59.3,81.3 L58.3,78.9 L57.3,74.5 L56.3,68.4 L55.3,63.9 L54.3,64.3 L53.3,64.7 L52.3,65.0 L51.3,64.7 L50.3,64.1 L49.3,63.2 L48.3,62.3 L47.3,61.6Z" fill="#3a3aff" fill-opacity="0.08" transform="translate(0,189.4)"/>
<path d="M47.3,48.4 L48.3,47.9 L49.3,47.2 L50.3,46.5 L51.3,45.9 L52.3,45.7 L53.3,46.0 L54.3,46.3 L55.3,46.6 L56.3,47.8 L57.3,50.7 L58.3,55.7 L59.3,63.0 L60.3,69.9 L61.3,67.7 L62.3,61.9 L63.3,56.1 L64.3,52.3 L65.3,50.0 L66.3,49.0 L67.3,48.4 L68.3,47.8 L69.3,47.5 L70.3,47.6 L71.3,47.9 L72.3,48.2 L73.3,49.8 L74.3,53.1 L75.3,58.7 L76.3,66.3 L77.3,72.4 L78.3,67.4 L79.3,61.8 L80.3,56.8 L81.3,53.6 L82.3,51.9 L83.3,51.1 L84.3,50.4 L85.3,50.0 L86.3,49.9 L87.3,50.2 L88.3,50.5 L89.3,51.8 L90.3,54.6 L91.3,59.4 L92.3,65.9 L93.3,71.6 L94.3,68.0 L95.3,63.0 L96.3,58.3 L97.3,55.3 L98.3,53.7 L99.3,52.9 L100.3,52.4 L101.3,51.9 L102.3,51.7 L103.3,51.8 L104.3,52.0 L105.3,52.2 L106.3,53.1 L107.3,55.4 L108.3,59.4 L109.3,65.5 L110.3,71.2 L111.3,68.8 L112.3,63.4 L113.3,58.1 L114.3,54.6 L115.3,52.6 L116.3,51.7 L117.3,51.1 L118.3,50.6 L119.3,50.4 L120.3,50.5 L121.3,50.8 L122.3,51.2 L123.3,52.8 L124.3,55.9 L125.3,61.3 L126.3,67.8 L127.3,70.8 L128.3,65.9 L129.3,60.7 L130.3,56.3 L131.3,53.3 L132.3,51.6 L133.3,50.8 L134.3,50.1 L135.3,49.5 L136.3,49.2 L137.3,49.3 L138.3,49.6 L139.3,50.0 L140.3,51.1 L141.3,53.9 L142.3,58.7 L143.3,65.5 L144.3,72.0 L145.3,69.9 L146.3,64.4 L147.3,59.1 L148.3,55.5 L149.3,53.4 L150.3,52.5 L151.3,51.8 L152.3,51.4 L153.3,51.2 L154.3,51.4 L155.3,51.7 L156.3,52.6 L157.3,54.9 L158.3,59.1 L159.3,65.4 L160.3,71.3 L161.3,69.8 L162.3,65.1 L163.3,60.5 L164.3,57.4 L165.3,55.7 L166.3,54.9 L167.3,54.5 L168.3,54.1 L169.3,53.8 L170.3,53.8 L171.3,53.9 L172.3,54.1 L173.3,54.5 L174.3,55.9 L175.3,58.7 L176.3,63.7 L177.3,69.6 L178.3,72.3 L179.3,67.9 L180.3,63.1 L181.3,59.1 L182.3,56.5 L183.3,55.0 L184.3,54.3 L185.3,53.7 L186.3,53.2 L187.3,53.0 L188.3,53.2 L189.3,53.5 L190.3,54.0 L191.3,55.6 L192.3,58.9 L193.3,64.0 L194.3,70.1 L195.3,72.7 L196.3,67.8 L197.3,62.6 L198.3,58.2 L199.3,55.8 L200.3,54.5 L201.3,54.1 L202.3,53.7 L203.3,53.4 L204.3,53.4 L205.3,53.5 L206.3,53.7 L207.3,54.5 L208.3,56.5 L209.3,60.4 L210.3,66.3 L211.3,71.9 L212.3,67.5 L213.3,60.2 L214.3,53.1 L215.3,48.1 L216.3,45.2 L217.3,43.7 L218.3,42.8 L219.3,41.9 L220.3,41.4 L221.3,41.4 L222.3,41.9 L223.3,42.3 L224.3,43.6 L225.3,47.0 L226.3,52.6 L227.3,60.7 L228.3,68.3 L229.3,65.4 L230.3,58.5 L231.3,51.8 L232.3,47.2 L233.3,44.5 L234.3,43.3 L235.3,42.5 L236.3,41.7 L237.3,41.3 L238.3,41.4 L239.3,41.7 L240.3,42.1 L241.3,43.3 L242.3,46.6 L243.3,52.4 L244.3,61.2 L245.3,69.4 L246.3,68.1 L247.3,62.3 L248.3,56.6 L249.3,52.9 L250.3,50.7 L251.3,49.7 L252.3,49.1 L253.3,48.6 L254.3,48.3 L255.3,48.4 L256.3,48.7 L257.3,49.2 L258.3,50.9 L259.3,54.3 L260.3,60.2 L261.3,67.2 L262.3,70.2 L263.3,64.5 L264.3,58.4 L265.3,53.3 L266.3,49.9 L267.3,48.0 L268.3,47.1 L269.3,46.3 L270.3,45.6 L271.3,45.4 L272.3,45.7 L273.3,46.1 L274.3,46.7 L275.3,48.8 L276.3,53.0 L277.3,59.6 L278.3,67.4 L279.3,70.9 L280.3,64.8 L281.3,58.3 L282.3,52.8 L283.3,49.3 L284.3,47.2 L285.3,46.3 L286.3,45.5 L287.3,44.8 L288.3,44.4 L289.3,44.6 L290.3,45.0 L291.3,45.3 L292.3,46.7 L293.3,50.0 L294.3,55.8 L295.3,64.2 L296.3,72.1 L297.3,68.3 L298.3,61.6 L299.3,58.4 L299.8,58.1 L299.8,73.1 L299.3,76.2 L298.3,80.2 L297.3,82.0 L296.3,82.4 L295.3,81.5 L294.3,78.9 L293.3,73.6 L292.3,66.4 L291.3,61.1 L290.3,61.4 L289.3,61.8 L288.3,62.0 L287.3,61.6 L286.3,60.9 L285.3,60.1 L284.3,60.8 L283.3,66.6 L282.3,72.5 L281.3,77.1 L280.3,79.6 L279.3,80.6 L278.3,80.3 L277.3,78.8 L276.3,75.2 L275.3,69.1 L274.3,62.7 L273.3,61.4 L272.3,61.7 L271.3,62.0 L270.3,61.8 L269.3,61.1 L268.3,60.3 L267.3,60.9 L266.3,66.3 L265.3,71.8 L264.3,76.2 L263.3,78.6 L262.3,79.6 L261.3,79.3 L260.3,77.8 L259.3,74.2 L258.3,68.3 L257.3,62.0 L256.3,59.7 L255.3,60.0 L254.3,60.1 L253.3,59.8 L252.3,59.3 L251.3,58.7 L250.3,63.4 L249.3,69.1 L248.3,74.5 L247.3,77.9 L246.3,79.5 L245.3,79.9 L244.3,78.9 L243.3,76.3 L242.3,70.5 L241.3,62.6 L240.3,56.3 L239.3,56.5 L238.3,56.8 L237.3,56.9 L236.3,56.5 L235.3,55.7 L234.3,54.9 L233.3,59.9 L232.3,66.4 L231.3,72.5 L230.3,76.3 L229.3,78.0 L228.3,78.4 L227.3,77.5 L226.3,75.0 L225.3,70.0 L224.3,63.3 L223.3,58.7 L222.3,59.1 L221.3,59.6 L220.3,59.6 L219.3,59.1 L218.3,58.2 L217.3,57.3 L216.3,62.0 L215.3,68.6 L214.3,74.9 L213.3,78.7 L212.3,80.5 L211.3,80.9 L210.3,80.0 L209.3,77.7 L208.3,73.3 L207.3,67.3 L206.3,62.3 L205.3,61.9 L204.3,62.0 L203.3,62.0 L202.3,61.7 L201.3,61.3 L200.3,63.5 L199.3,68.7 L198.3,74.1 L197.3,78.3 L196.3,80.6 L195.3,81.6 L194.3,81.3 L193.3,79.9 L192.3,76.8 L191.3,71.9 L190.3,66.7 L189.3,65.5 L188.3,65.8 L187.3,66.0 L186.3,65.8 L185.3,65.3 L184.3,64.7 L183.3,65.3 L182.3,69.7 L181.3,74.2 L180.3,77.9 L179.3,80.0 L178.3,80.9 L177.3,80.6 L176.3,79.2 L175.3,76.0 L174.3,70.8 L173.3,65.3 L172.3,63.1 L171.3,63.3 L170.3,63.4 L169.3,63.4 L168.3,63.1 L167.3,62.7 L166.3,62.4 L165.3,66.3 L164.3,71.1 L163.3,75.6 L162.3,78.6 L161.3,80.1 L160.3,80.4 L159.3,79.5 L158.3,77.3 L157.3,72.8 L156.3,66.9 L155.3,62.1 L154.3,62.2 L153.3,62.4 L152.3,62.2 L151.3,61.8 L150.3,61.1 L149.3,65.6 L148.3,71.0 L147.3,76.2 L146.3,79.5 L145.3,81.0 L144.3,81.4 L143.3,80.6 L142.3,78.3 L141.3,73.8 L140.3,67.9 L139.3,63.8 L138.3,64.2 L137.3,64.5 L136.3,64.6 L135.3,64.3 L134.3,63.7 L133.3,63.0 L132.3,63.3 L131.3,67.9 L130.3,72.7 L129.3,76.5 L128.3,78.7 L127.3,79.6 L126.3,79.3 L125.3,77.8 L124.3,74.5 L123.3,69.0 L122.3,63.2 L121.3,61.0 L120.3,61.3 L119.3,61.4 L118.3,61.2 L117.3,60.7 L116.3,60.2 L115.3,64.6 L114.3,70.0 L113.3,75.0 L112.3,78.3 L111.3,79.8 L110.3,80.2 L109.3,79.4 L108.3,77.1 L107.3,72.8 L106.3,67.0 L105.3,62.4 L104.3,62.4 L103.3,62.6 L102.3,62.7 L101.3,62.5 L100.3,62.0 L99.3,61.5 L98.3,64.4 L97.3,69.3 L96.3,74.2 L95.3,77.5 L94.3,79.4 L93.3,79.9 L92.3,79.3 L91.3,77.3 L90.3,73.3 L89.3,67.5 L88.3,62.1 L87.3,61.6 L86.3,61.9 L85.3,61.8 L84.3,61.4 L83.3,60.7 L82.3,63.2 L81.3,68.6 L80.3,74.0 L79.3,77.9 L78.3,79.9 L77.3,80.6 L76.3,80.1 L75.3,78.2 L74.3,73.9 L73.3,67.4 L72.3,61.1 L71.3,59.7 L70.3,60.0 L69.3,60.1 L68.3,59.8 L67.3,59.2 L66.3,58.6 L65.3,63.1 L64.3,68.8 L63.3,74.2 L62.3,77.6 L61.3,79.2 L60.3,79.6 L59.3,78.7 L58.3,76.3 L57.3,71.6 L56.3,65.2 L55.3,60.4 L54.3,60.7 L53.3,61.0 L52.3,61.3 L51.3,61.1 L50.3,60.5 L49.3,59.8 L48.3,59.1 L47.3,58.6Z" fill="#3a3aff" fill-opacity="0.14" transform="translate(0,189.4)"/>
<path d="M47.3,50.7 L48.3,50.3 L49.3,49.8 L50.3,49.3 L51.3,48.9 L52.3,48.8 L53.3,48.9 L54.3,49.1 L55.3,49.4 L56.3,50.5 L57.3,53.3 L58.3,58.7 L59.3,66.0 L60.3,72.2 L61.3,70.1 L62.3,64.3 L63.3,58.5 L64.3,54.2 L65.3,52.0 L66.3,51.2 L67.3,50.7 L68.3,50.3 L69.3,50.1 L70.3,50.2 L71.3,50.4 L72.3,50.6 L73.3,52.1 L74.3,55.4 L75.3,61.8 L76.3,69.1 L77.3,74.3 L78.3,69.8 L79.3,64.2 L80.3,58.9 L81.3,55.5 L82.3,53.9 L83.3,53.2 L84.3,52.8 L85.3,52.5 L86.3,52.4 L87.3,52.6 L88.3,52.8 L89.3,54.0 L90.3,56.8 L91.3,62.1 L92.3,68.6 L93.3,73.6 L94.3,70.2 L95.3,65.2 L96.3,60.3 L97.3,57.1 L98.3,55.5 L99.3,54.9 L100.3,54.6 L101.3,54.2 L102.3,54.0 L103.3,54.1 L104.3,54.2 L105.3,54.4 L106.3,55.2 L107.3,57.4 L108.3,61.9 L109.3,68.1 L110.3,73.3 L111.3,71.0 L112.3,65.7 L113.3,60.3 L114.3,56.3 L115.3,54.4 L116.3,53.6 L117.3,53.3 L118.3,52.9 L119.3,52.7 L120.3,52.8 L121.3,53.0 L122.3,53.3 L123.3,54.9 L124.3,58.2 L125.3,64.0 L126.3,70.2 L127.3,72.7 L128.3,68.2 L129.3,63.1 L130.3,58.4 L131.3,55.5 L132.3,54.0 L133.3,53.4 L134.3,52.9 L135.3,52.4 L136.3,52.2 L137.3,52.3 L138.3,52.5 L139.3,52.7 L140.3,53.8 L141.3,56.6 L142.3,61.6 L143.3,68.4 L144.3,74.2 L145.3,72.2 L146.3,66.8 L147.3,61.3 L148.3,57.2 L149.3,55.2 L150.3,54.5 L151.3,54.0 L152.3,53.7 L153.3,53.6 L154.3,53.7 L155.3,53.9 L156.3,54.8 L157.3,57.1 L158.3,61.7 L159.3,68.0 L160.3,73.4 L161.3,71.8 L162.3,67.2 L163.3,62.5 L164.3,59.0 L165.3,57.3 L166.3,56.7 L167.3,56.4 L168.3,56.2 L169.3,55.9 L170.3,55.9 L171.3,56.0 L172.3,56.2 L173.3,56.4 L174.3,57.8 L175.3,60.8 L176.3,66.2 L177.3,71.9 L178.3,74.2 L179.3,70.1 L180.3,65.3 L181.3,61.0 L182.3,58.4 L183.3,57.1 L184.3,56.6 L185.3,56.1 L186.3,55.8 L187.3,55.7 L188.3,55.8 L189.3,56.0 L190.3,56.4 L191.3,58.0 L192.3,61.2 L193.3,66.7 L194.3,72.5 L195.3,74.7 L196.3,70.1 L197.3,64.8 L198.3,60.0 L199.3,57.3 L200.3,56.2 L201.3,55.9 L202.3,55.6 L203.3,55.4 L204.3,55.4 L205.3,55.5 L206.3,55.6 L207.3,56.3 L208.3,58.3 L209.3,62.7 L210.3,68.8 L211.3,74.0 L212.3,70.2 L213.3,63.2 L214.3,55.9 L215.3,50.6 L216.3,47.7 L217.3,46.5 L218.3,45.8 L219.3,45.2 L220.3,44.8 L221.3,44.8 L222.3,45.1 L223.3,45.4 L224.3,46.7 L225.3,50.1 L226.3,55.9 L227.3,64.0 L228.3,70.7 L229.3,68.1 L230.3,61.3 L231.3,54.5 L232.3,49.4 L233.3,46.8 L234.3,45.7 L235.3,45.2 L236.3,44.7 L237.3,44.4 L238.3,44.4 L239.3,44.6 L240.3,44.9 L241.3,46.1 L242.3,49.3 L243.3,55.7 L244.3,64.6 L245.3,71.9 L246.3,70.4 L247.3,64.7 L248.3,58.9 L249.3,54.7 L250.3,52.6 L251.3,51.8 L252.3,51.3 L253.3,51.0 L254.3,50.8 L255.3,50.9 L256.3,51.1 L257.3,51.4 L258.3,53.1 L259.3,56.7 L260.3,63.1 L261.3,69.8 L262.3,72.3 L263.3,67.1 L264.3,61.1 L265.3,55.6 L266.3,52.2 L267.3,50.5 L268.3,49.8 L269.3,49.2 L270.3,48.8 L271.3,48.6 L272.3,48.8 L273.3,49.0 L274.3,49.6 L275.3,51.6 L276.3,55.8 L277.3,62.8 L278.3,70.2 L279.3,73.1 L280.3,67.5 L281.3,61.1 L282.3,55.2 L283.3,51.7 L284.3,49.8 L285.3,49.1 L286.3,48.5 L287.3,48.0 L288.3,47.7 L289.3,47.9 L290.3,48.1 L291.3,48.4 L292.3,49.7 L293.3,53.0 L294.3,59.1 L295.3,67.6 L296.3,74.6 L297.3,71.2 L298.3,64.1 L299.3,60.6 L299.8,60.4 L299.8,70.2 L299.3,73.7 L298.3,78.5 L297.3,80.3 L296.3,80.6 L295.3,79.8 L294.3,76.8 L293.3,70.6 L292.3,63.2 L291.3,58.1 L290.3,58.3 L289.3,58.5 L288.3,58.7 L287.3,58.4 L286.3,57.9 L285.3,57.3 L284.3,58.5 L283.3,63.9 L282.3,69.9 L281.3,75.2 L280.3,77.9 L279.3,78.9 L278.3,78.6 L277.3,77.1 L276.3,72.8 L275.3,66.2 L274.3,60.0 L273.3,58.4 L272.3,58.6 L271.3,58.8 L270.3,58.6 L269.3,58.2 L268.3,57.6 L267.3,58.6 L266.3,63.8 L265.3,69.4 L264.3,74.3 L263.3,77.0 L262.3,77.9 L261.3,77.6 L260.3,76.1 L259.3,71.9 L258.3,65.6 L257.3,59.6 L256.3,57.3 L255.3,57.5 L254.3,57.6 L253.3,57.4 L252.3,57.1 L251.3,56.9 L250.3,61.0 L249.3,66.7 L248.3,72.3 L247.3,76.3 L246.3,77.8 L245.3,78.2 L244.3,77.3 L243.3,74.1 L242.3,67.4 L241.3,59.3 L240.3,53.6 L239.3,53.6 L238.3,53.8 L237.3,53.8 L236.3,53.5 L235.3,53.0 L234.3,52.5 L233.3,57.2 L232.3,63.7 L231.3,70.2 L230.3,74.6 L229.3,76.3 L228.3,76.7 L227.3,75.8 L226.3,73.0 L225.3,67.1 L224.3,60.1 L223.3,55.6 L222.3,55.9 L221.3,56.2 L220.3,56.2 L219.3,55.8 L218.3,55.2 L217.3,54.5 L216.3,59.1 L215.3,65.8 L214.3,72.5 L213.3,77.1 L212.3,78.8 L211.3,79.2 L210.3,78.4 L209.3,75.9 L208.3,70.8 L207.3,64.8 L206.3,60.5 L205.3,59.9 L204.3,60.0 L203.3,60.0 L202.3,59.8 L201.3,59.5 L200.3,61.6 L199.3,66.5 L198.3,71.8 L197.3,76.5 L196.3,79.0 L195.3,79.9 L194.3,79.7 L193.3,78.3 L192.3,74.7 L191.3,69.5 L190.3,64.5 L189.3,63.0 L188.3,63.2 L187.3,63.3 L186.3,63.2 L185.3,62.9 L184.3,62.4 L183.3,63.4 L182.3,67.5 L181.3,72.1 L180.3,76.1 L179.3,78.4 L178.3,79.2 L177.3,78.9 L176.3,77.5 L175.3,73.9 L174.3,68.4 L173.3,63.2 L172.3,61.0 L171.3,61.2 L170.3,61.3 L169.3,61.3 L168.3,61.0 L167.3,60.8 L166.3,60.8 L165.3,64.2 L164.3,69.0 L163.3,73.6 L162.3,77.0 L161.3,78.4 L160.3,78.7 L159.3,77.9 L158.3,75.4 L157.3,70.3 L156.3,64.3 L155.3,60.0 L154.3,59.9 L153.3,60.0 L152.3,59.9 L151.3,59.6 L150.3,59.4 L149.3,63.3 L148.3,68.7 L147.3,74.1 L146.3,77.8 L145.3,79.4 L144.3,79.7 L143.3,78.9 L142.3,76.4 L141.3,71.2 L140.3,65.1 L139.3,61.1 L138.3,61.3 L137.3,61.5 L136.3,61.6 L135.3,61.4 L134.3,60.9 L133.3,60.4 L132.3,61.2 L131.3,65.6 L130.3,70.5 L129.3,74.7 L128.3,77.0 L127.3,77.9 L126.3,77.6 L125.3,76.2 L124.3,72.3 L123.3,66.4 L122.3,60.9 L121.3,58.8 L120.3,59.0 L119.3,59.1 L118.3,58.9 L117.3,58.5 L116.3,58.5 L115.3,62.3 L114.3,67.7 L113.3,72.9 L112.3,76.7 L111.3,78.2 L110.3,78.5 L109.3,77.7 L108.3,75.2 L107.3,70.3 L106.3,64.5 L105.3,60.3 L104.3,60.2 L103.3,60.3 L102.3,60.4 L101.3,60.2 L100.3,59.8 L99.3,59.5 L98.3,62.3 L97.3,67.1 L96.3,72.1 L95.3,75.9 L94.3,77.7 L93.3,78.2 L92.3,77.7 L91.3,75.6 L90.3,70.9 L89.3,64.8 L88.3,59.9 L87.3,59.2 L86.3,59.4 L85.3,59.3 L84.3,59.0 L83.3,58.6 L82.3,61.0 L81.3,66.3 L80.3,71.7 L79.3,76.1 L78.3,78.3 L77.3,78.9 L76.3,78.4 L75.3,76.4 L74.3,71.4 L73.3,64.5 L72.3,58.6 L71.3,57.2 L70.3,57.4 L69.3,57.5 L68.3,57.3 L67.3,56.9 L66.3,56.6 L65.3,60.7 L64.3,66.4 L63.3,72.0 L62.3,76.0 L61.3,77.5 L60.3,77.9 L59.3,77.1 L58.3,74.4 L57.3,68.8 L56.3,62.2 L55.3,57.7 L54.3,57.9 L53.3,58.1 L52.3,58.2 L51.3,58.1 L50.3,57.7 L49.3,57.2 L48.3,56.7 L47.3,56.3Z" fill="#3a3aff" fill-opacity="0.3" transform="translate(0,189.4)"/>
<g transform="translate(0,189.4)"><path d="M251.0,62 L254.3,42 L257.5,62Z" fill="#3a3aff" fill-opacity="0.30"/><path d="M297.6,64 L299.6,43 L301.2,64Z" fill="#3a3aff" fill-opacity="0.30"/></g>
<path d="M47.3,47.0 L48.3,47.9 L49.3,50.1 L50.3,51.8 L51.3,52.8 L52.3,52.6 L53.3,52.9 L54.3,53.9 L55.3,54.7 L56.3,56.4 L57.3,59.7 L58.3,64.0 L59.3,68.5 L60.3,71.8 L61.3,68.3 L62.3,60.7 L63.3,53.6 L64.3,50.1 L65.3,49.3 L66.3,49.9 L67.3,50.7 L68.3,51.7 L69.3,53.1 L70.3,54.5 L71.3,56.1 L72.3,57.8 L73.3,60.8 L74.3,64.3 L75.3,67.9 L76.3,71.3 L77.3,72.8 L78.3,67.9 L79.3,60.9 L80.3,54.8 L81.3,52.0 L82.3,51.3 L83.3,51.7 L84.3,52.3 L85.3,53.1 L86.3,54.0 L87.3,54.3 L88.3,54.2 L89.3,54.9 L90.3,57.2 L91.3,61.6 L92.3,68.0 L93.3,72.2 L94.3,68.8 L95.3,63.2 L96.3,57.5 L97.3,53.3 L98.3,51.5 L99.3,51.6 L100.3,52.4 L101.3,53.1 L102.3,53.7 L103.3,54.3 L104.3,54.6 L105.3,55.4 L106.3,57.3 L107.3,60.6 L108.3,64.8 L109.3,69.2 L110.3,72.4 L111.3,70.2 L112.3,65.1 L113.3,59.7 L114.3,55.7 L115.3,54.0 L116.3,53.8 L117.3,54.3 L118.3,54.9 L119.3,55.4 L120.3,55.1 L121.3,54.9 L122.3,55.3 L123.3,56.7 L124.3,59.1 L125.3,63.5 L126.3,69.5 L127.3,71.3 L128.3,65.9 L129.3,59.2 L130.3,53.4 L131.3,48.8 L132.3,47.1 L133.3,47.5 L134.3,48.8 L135.3,50.1 L136.3,51.0 L137.3,50.7 L138.3,50.5 L139.3,51.6 L140.3,53.5 L141.3,57.1 L142.3,62.9 L143.3,68.9 L144.3,73.5 L145.3,72.0 L146.3,65.7 L147.3,61.5 L148.3,58.0 L149.3,56.4 L150.3,56.3 L151.3,56.5 L152.3,56.8 L153.3,57.4 L154.3,57.6 L155.3,58.1 L156.3,59.0 L157.3,60.4 L158.3,63.1 L159.3,69.3 L160.3,72.6 L161.3,70.6 L162.3,65.8 L163.3,60.9 L164.3,57.0 L165.3,55.1 L166.3,54.9 L167.3,55.6 L168.3,56.3 L169.3,56.5 L170.3,56.6 L171.3,56.9 L172.3,57.7 L173.3,59.0 L174.3,61.7 L175.3,65.1 L176.3,68.8 L177.3,72.1 L178.3,72.7 L179.3,67.9 L180.3,61.8 L181.3,56.5 L182.3,53.5 L183.3,52.0 L184.3,52.4 L185.3,53.6 L186.3,54.5 L187.3,55.6 L188.3,56.5 L189.3,56.8 L190.3,55.7 L191.3,57.1 L192.3,59.8 L193.3,64.8 L194.3,71.2 L195.3,73.6 L196.3,69.6 L197.3,64.7 L198.3,60.1 L199.3,57.5 L200.3,56.7 L201.3,56.7 L202.3,56.9 L203.3,57.3 L204.3,57.8 L205.3,57.4 L206.3,56.7 L207.3,57.3 L208.3,59.3 L209.3,62.7 L210.3,68.2 L211.3,72.9 L212.3,71.7 L213.3,68.1 L214.3,64.2 L215.3,61.2 L216.3,60.0 L217.3,60.0 L218.3,59.8 L219.3,59.8 L220.3,60.2 L221.3,61.0 L222.3,61.0 L223.3,60.8 L224.3,61.1 L225.3,62.6 L226.3,65.5 L227.3,68.8 L228.3,70.2 L229.3,68.3 L230.3,62.7 L231.3,56.1 L232.3,52.3 L233.3,51.2 L234.3,50.9 L235.3,51.0 L236.3,51.2 L237.3,50.9 L238.3,50.9 L239.3,50.9 L240.3,51.1 L241.3,52.1 L242.3,54.1 L243.3,58.2 L244.3,65.8 L245.3,71.7 L246.3,69.8 L247.3,64.3 L248.3,59.1 L249.3,56.0 L250.3,54.8 L251.3,53.9 L252.3,49.6 L253.3,42.4 L254.3,40.3 L255.3,41.6 L256.3,48.1 L257.3,53.4 L258.3,55.4 L259.3,58.3 L260.3,63.4 L261.3,69.5 L262.3,71.4 L263.3,66.6 L264.3,60.8 L265.3,56.3 L266.3,54.3 L267.3,53.9 L268.3,54.3 L269.3,54.3 L270.3,54.2 L271.3,54.2 L272.3,54.7 L273.3,54.5 L274.3,54.7 L275.3,56.3 L276.3,59.6 L277.3,65.0 L278.3,70.7 L279.3,72.5 L280.3,68.1 L281.3,62.7 L282.3,57.7 L283.3,55.0 L284.3,54.4 L285.3,55.0 L286.3,55.3 L287.3,55.4 L288.3,55.7 L289.3,56.2 L290.3,56.9 L291.3,58.0 L292.3,59.0 L293.3,61.5 L294.3,65.8 L295.3,70.8 L296.3,74.6 L297.3,70.9 L298.3,63.7 L299.3,59.2 L299.8,58.7 L299.8,68.7 L299.3,72.4 L298.3,78.8 L297.3,81.6 L296.3,82.3 L295.3,81.1 L294.3,78.1 L293.3,73.4 L292.3,68.5 L291.3,65.7 L290.3,64.8 L289.3,63.9 L288.3,63.3 L287.3,63.0 L286.3,62.9 L285.3,62.6 L284.3,62.0 L283.3,65.0 L282.3,70.4 L281.3,75.6 L280.3,79.1 L279.3,80.4 L278.3,80.1 L277.3,77.8 L276.3,73.0 L275.3,67.1 L274.3,62.9 L273.3,62.1 L272.3,62.3 L271.3,61.8 L270.3,61.8 L269.3,61.9 L268.3,61.9 L267.3,61.5 L266.3,63.2 L265.3,68.7 L264.3,74.4 L263.3,78.0 L262.3,79.4 L261.3,79.1 L260.3,76.7 L259.3,71.6 L258.3,65.6 L257.3,61.9 L256.3,60.0 L255.3,56.4 L254.3,50.8 L253.3,57.5 L252.3,60.5 L251.3,61.8 L250.3,62.6 L249.3,66.6 L248.3,72.2 L247.3,76.8 L246.3,79.3 L245.3,79.7 L244.3,78.4 L243.3,74.2 L242.3,67.0 L241.3,61.1 L240.3,58.8 L239.3,58.5 L238.3,58.5 L237.3,58.5 L236.3,58.8 L235.3,58.6 L234.3,58.5 L233.3,58.9 L232.3,64.3 L231.3,70.3 L230.3,75.4 L229.3,77.5 L228.3,77.8 L227.3,77.2 L226.3,75.4 L225.3,72.3 L224.3,69.2 L223.3,68.4 L222.3,68.6 L221.3,68.7 L220.3,68.0 L219.3,67.4 L218.3,67.4 L217.3,67.6 L216.3,67.8 L215.3,71.1 L214.3,75.0 L213.3,78.3 L212.3,80.4 L211.3,80.8 L210.3,79.5 L209.3,75.9 L208.3,70.3 L207.3,65.8 L206.3,64.3 L205.3,65.2 L204.3,65.4 L203.3,64.9 L202.3,64.5 L201.3,64.3 L200.3,64.3 L199.3,67.3 L198.3,72.2 L197.3,76.9 L196.3,80.1 L195.3,81.4 L194.3,81.0 L193.3,78.6 L192.3,73.1 L191.3,66.9 L190.3,64.4 L189.3,64.7 L188.3,64.2 L187.3,63.4 L186.3,62.4 L185.3,61.4 L184.3,60.4 L183.3,60.3 L182.3,64.1 L181.3,69.9 L180.3,75.6 L179.3,79.3 L178.3,80.7 L177.3,80.5 L176.3,78.7 L175.3,75.6 L174.3,72.0 L173.3,68.4 L172.3,65.6 L171.3,64.6 L170.3,64.2 L169.3,64.1 L168.3,63.9 L167.3,63.4 L166.3,62.6 L165.3,63.7 L164.3,68.4 L163.3,73.4 L162.3,77.5 L161.3,79.8 L160.3,80.3 L159.3,79.2 L158.3,76.3 L157.3,72.2 L156.3,67.5 L155.3,66.4 L154.3,65.8 L153.3,65.6 L152.3,65.0 L151.3,64.7 L150.3,64.5 L149.3,65.1 L148.3,69.0 L147.3,75.1 L146.3,78.7 L145.3,80.8 L144.3,81.3 L143.3,80.1 L142.3,76.6 L141.3,71.0 L140.3,64.9 L139.3,60.5 L138.3,58.2 L137.3,58.3 L136.3,58.6 L135.3,58.0 L134.3,56.9 L133.3,55.5 L132.3,55.7 L131.3,60.8 L130.3,67.6 L129.3,74.0 L128.3,77.9 L127.3,79.4 L126.3,79.1 L125.3,76.7 L124.3,71.6 L123.3,65.9 L122.3,63.3 L121.3,62.5 L120.3,62.7 L119.3,63.0 L118.3,62.6 L117.3,61.9 L116.3,61.4 L115.3,62.4 L114.3,67.4 L113.3,72.8 L112.3,77.2 L111.3,79.6 L110.3,80.1 L109.3,79.0 L108.3,76.2 L107.3,72.1 L106.3,67.7 L105.3,63.9 L104.3,62.2 L103.3,61.9 L102.3,61.3 L101.3,60.8 L100.3,60.2 L99.3,59.3 L98.3,60.1 L97.3,65.4 L96.3,71.1 L95.3,76.1 L94.3,79.0 L93.3,79.8 L92.3,78.9 L91.3,75.7 L90.3,69.8 L89.3,64.0 L88.3,61.8 L87.3,61.9 L86.3,61.7 L85.3,60.9 L84.3,60.0 L83.3,59.4 L82.3,58.9 L81.3,62.6 L80.3,69.5 L79.3,75.9 L78.3,79.4 L77.3,80.5 L76.3,79.9 L75.3,77.9 L74.3,74.7 L73.3,71.1 L72.3,67.5 L71.3,64.4 L70.3,62.7 L69.3,61.2 L68.3,59.8 L67.3,58.5 L66.3,57.7 L65.3,56.9 L64.3,61.9 L63.3,69.7 L62.3,76.1 L61.3,78.8 L60.3,79.5 L59.3,78.4 L58.3,75.5 L57.3,71.3 L56.3,66.8 L55.3,63.0 L54.3,61.6 L53.3,60.7 L52.3,60.2 L51.3,60.4 L50.3,59.7 L49.3,58.5 L48.3,56.7 L47.3,54.6Z" fill="#3a3aff" fill-opacity="0.16" transform="translate(0,94.8)"/>
<path d="M47.3,48.5 L48.3,49.4 L49.3,51.6 L50.3,53.3 L51.3,54.3 L52.3,54.1 L53.3,54.4 L54.3,55.4 L55.3,56.2 L56.3,57.9 L57.3,61.4 L58.3,65.7 L59.3,70.2 L60.3,73.3 L61.3,70.0 L62.3,62.5 L63.3,55.3 L64.3,51.6 L65.3,50.8 L66.3,51.4 L67.3,52.2 L68.3,53.2 L69.3,54.6 L70.3,56.0 L71.3,57.6 L72.3,59.3 L73.3,62.4 L74.3,65.9 L75.3,69.5 L76.3,72.8 L77.3,74.3 L78.3,69.6 L79.3,62.6 L80.3,56.5 L81.3,53.5 L82.3,52.8 L83.3,53.2 L84.3,53.8 L85.3,54.6 L86.3,55.5 L87.3,55.8 L88.3,55.7 L89.3,56.4 L90.3,58.7 L91.3,63.3 L92.3,69.7 L93.3,73.7 L94.3,70.5 L95.3,64.9 L96.3,59.2 L97.3,54.8 L98.3,53.0 L99.3,53.1 L100.3,53.9 L101.3,54.6 L102.3,55.2 L103.3,55.7 L104.3,56.1 L105.3,56.9 L106.3,58.8 L107.3,62.3 L108.3,66.5 L109.3,70.9 L110.3,73.9 L111.3,71.9 L112.3,66.8 L113.3,61.5 L114.3,57.2 L115.3,55.5 L116.3,55.3 L117.3,55.8 L118.3,56.4 L119.3,56.9 L120.3,56.6 L121.3,56.4 L122.3,56.8 L123.3,58.2 L124.3,60.6 L125.3,65.2 L126.3,71.2 L127.3,72.8 L128.3,67.6 L129.3,60.9 L130.3,54.9 L131.3,50.3 L132.3,48.6 L133.3,49.0 L134.3,50.3 L135.3,51.6 L136.3,52.5 L137.3,52.2 L138.3,52.0 L139.3,53.1 L140.3,55.0 L141.3,58.8 L142.3,64.6 L143.3,70.6 L144.3,75.0 L145.3,73.6 L146.3,67.5 L147.3,63.2 L148.3,59.5 L149.3,57.9 L150.3,57.8 L151.3,58.0 L152.3,58.3 L153.3,58.9 L154.3,59.1 L155.3,59.6 L156.3,60.5 L157.3,62.0 L158.3,64.7 L159.3,71.0 L160.3,74.1 L161.3,72.3 L162.3,67.6 L163.3,62.6 L164.3,58.5 L165.3,56.6 L166.3,56.4 L167.3,57.1 L168.3,57.8 L169.3,58.0 L170.3,58.1 L171.3,58.4 L172.3,59.2 L173.3,60.5 L174.3,63.2 L175.3,66.8 L176.3,70.4 L177.3,73.6 L178.3,74.2 L179.3,69.6 L180.3,63.5 L181.3,58.0 L182.3,55.0 L183.3,53.5 L184.3,53.8 L185.3,55.0 L186.3,56.0 L187.3,57.1 L188.3,58.0 L189.3,58.5 L190.3,57.1 L191.3,58.6 L192.3,61.5 L193.3,66.5 L194.3,72.9 L195.3,75.1 L196.3,71.3 L197.3,66.4 L198.3,61.9 L199.3,59.0 L200.3,58.2 L201.3,58.2 L202.3,58.4 L203.3,58.8 L204.3,59.3 L205.3,58.9 L206.3,58.2 L207.3,58.8 L208.3,60.8 L209.3,64.4 L210.3,69.9 L211.3,74.4 L212.3,73.3 L213.3,69.7 L214.3,65.9 L215.3,62.7 L216.3,61.5 L217.3,61.5 L218.3,61.3 L219.3,61.3 L220.3,61.7 L221.3,62.5 L222.3,62.5 L223.3,62.3 L224.3,62.6 L225.3,64.1 L226.3,67.1 L227.3,70.3 L228.3,71.7 L229.3,70.0 L230.3,64.2 L231.3,57.8 L232.3,53.8 L233.3,52.7 L234.3,52.4 L235.3,52.5 L236.3,52.7 L237.3,52.4 L238.3,52.4 L239.3,52.4 L240.3,52.5 L241.3,53.6 L242.3,55.6 L243.3,60.0 L244.3,67.5 L245.3,73.3 L246.3,71.5 L247.3,66.1 L248.3,60.8 L249.3,57.5 L250.3,56.3 L251.3,55.4 L252.3,51.3 L253.3,44.1 L254.3,41.8 L255.3,43.3 L256.3,49.8 L257.3,54.9 L258.3,56.9 L259.3,60.0 L260.3,65.1 L261.3,71.2 L262.3,72.9 L263.3,68.3 L264.3,62.5 L265.3,57.9 L266.3,55.8 L267.3,55.4 L268.3,55.8 L269.3,55.8 L270.3,55.7 L271.3,55.7 L272.3,56.2 L273.3,56.0 L274.3,56.2 L275.3,57.8 L276.3,61.3 L277.3,66.7 L278.3,72.4 L279.3,74.0 L280.3,69.8 L281.3,64.4 L282.3,59.4 L283.3,56.5 L284.3,55.9 L285.3,56.5 L286.3,56.8 L287.3,56.9 L288.3,57.2 L289.3,57.7 L290.3,58.4 L291.3,59.5 L292.3,60.5 L293.3,63.1 L294.3,67.5 L295.3,72.5 L296.3,76.1 L297.3,72.7 L298.3,65.4 L299.3,60.7 L299.8,60.2 L299.8,67.0 L299.3,70.6 L298.3,77.1 L297.3,80.1 L296.3,80.8 L295.3,79.6 L294.3,76.3 L293.3,71.7 L292.3,66.8 L291.3,64.3 L290.3,63.4 L289.3,62.4 L288.3,61.8 L287.3,61.5 L286.3,61.4 L285.3,61.1 L284.3,60.5 L283.3,63.3 L282.3,68.7 L281.3,73.9 L280.3,77.6 L279.3,78.9 L278.3,78.6 L277.3,76.1 L276.3,71.3 L275.3,65.4 L274.3,61.4 L273.3,60.6 L272.3,60.8 L271.3,60.3 L270.3,60.3 L269.3,60.4 L268.3,60.4 L267.3,60.0 L266.3,61.5 L265.3,67.0 L264.3,72.6 L263.3,76.5 L262.3,77.9 L261.3,77.6 L260.3,75.0 L259.3,69.8 L258.3,63.9 L257.3,60.4 L256.3,58.5 L255.3,54.6 L254.3,49.1 L253.3,55.8 L252.3,59.0 L251.3,60.3 L250.3,61.1 L249.3,64.9 L248.3,70.5 L247.3,75.2 L246.3,77.8 L245.3,78.2 L244.3,76.9 L243.3,72.5 L242.3,65.2 L241.3,59.6 L240.3,57.3 L239.3,57.0 L238.3,57.0 L237.3,57.0 L236.3,57.3 L235.3,57.1 L234.3,57.0 L233.3,57.4 L232.3,62.6 L231.3,68.6 L230.3,73.8 L229.3,76.0 L228.3,76.3 L227.3,75.7 L226.3,73.9 L225.3,70.7 L224.3,67.7 L223.3,66.9 L222.3,67.1 L221.3,67.2 L220.3,66.5 L219.3,65.9 L218.3,65.9 L217.3,66.1 L216.3,66.3 L215.3,69.5 L214.3,73.3 L213.3,76.8 L212.3,78.9 L211.3,79.3 L210.3,78.0 L209.3,74.2 L208.3,68.6 L207.3,64.3 L206.3,62.8 L205.3,63.7 L204.3,63.9 L203.3,63.4 L202.3,63.0 L201.3,62.8 L200.3,62.8 L199.3,65.6 L198.3,70.5 L197.3,75.2 L196.3,78.6 L195.3,79.9 L194.3,79.6 L193.3,76.9 L192.3,71.4 L191.3,65.2 L190.3,62.9 L189.3,63.2 L188.3,62.7 L187.3,62.0 L186.3,60.9 L185.3,59.9 L184.3,58.9 L183.3,58.6 L182.3,62.6 L181.3,68.2 L180.3,73.9 L179.3,77.8 L178.3,79.2 L177.3,79.0 L176.3,77.2 L175.3,74.0 L174.3,70.3 L173.3,66.8 L172.3,64.1 L171.3,63.1 L170.3,62.7 L169.3,62.6 L168.3,62.4 L167.3,61.9 L166.3,61.1 L165.3,62.1 L164.3,66.6 L163.3,71.6 L162.3,75.9 L161.3,78.3 L160.3,78.8 L159.3,77.7 L158.3,74.6 L157.3,70.5 L156.3,66.0 L155.3,64.9 L154.3,64.3 L153.3,64.1 L152.3,63.5 L151.3,63.2 L150.3,63.0 L149.3,63.6 L148.3,67.2 L147.3,73.4 L146.3,77.2 L145.3,79.4 L144.3,79.8 L143.3,78.6 L142.3,74.9 L141.3,69.3 L140.3,63.2 L139.3,59.0 L138.3,56.7 L137.3,56.8 L136.3,57.1 L135.3,56.5 L134.3,55.4 L133.3,54.0 L132.3,54.0 L131.3,59.1 L130.3,65.9 L129.3,72.2 L128.3,76.4 L127.3,77.9 L126.3,77.6 L125.3,75.0 L124.3,69.9 L123.3,64.2 L122.3,61.8 L121.3,61.0 L120.3,61.2 L119.3,61.5 L118.3,61.1 L117.3,60.4 L116.3,59.9 L115.3,60.8 L114.3,65.7 L113.3,71.1 L112.3,75.6 L111.3,78.1 L110.3,78.6 L109.3,77.5 L108.3,74.5 L107.3,70.3 L106.3,66.0 L105.3,62.4 L104.3,60.7 L103.3,60.4 L102.3,59.9 L101.3,59.3 L100.3,58.7 L99.3,57.8 L98.3,58.4 L97.3,63.6 L96.3,69.4 L95.3,74.4 L94.3,77.5 L93.3,78.3 L92.3,77.4 L91.3,74.0 L90.3,68.1 L89.3,62.3 L88.3,60.3 L87.3,60.4 L86.3,60.2 L85.3,59.4 L84.3,58.6 L83.3,57.9 L82.3,57.4 L81.3,60.9 L80.3,67.8 L79.3,74.2 L78.3,77.9 L77.3,79.0 L76.3,78.5 L75.3,76.4 L74.3,73.1 L73.3,69.5 L72.3,65.9 L71.3,62.9 L70.3,61.2 L69.3,59.7 L68.3,58.3 L67.3,57.0 L66.3,56.2 L65.3,55.4 L64.3,60.2 L63.3,68.0 L62.3,74.3 L61.3,77.4 L60.3,78.0 L59.3,76.9 L58.3,73.8 L57.3,69.6 L56.3,65.1 L55.3,61.5 L54.3,60.1 L53.3,59.3 L52.3,58.7 L51.3,58.9 L50.3,58.2 L49.3,57.0 L48.3,55.2 L47.3,53.1Z" fill="#3a3aff" fill-opacity="0.5" transform="translate(0,94.8)"/>
<rect x="253.4" y="150.8" width="2.0" height="24" fill="#3a3aff" fill-opacity="0.12"/>
<path d="M251.8,59 L254.4,35 L257.0,59Z" fill="#3a3aff" fill-opacity="0.45" transform="translate(0,94.8)"/>
</g>
<path d="M252.6,56 L254.5,19.8 L255.9,55Z" fill="#666" fill-opacity="0.7" transform="translate(0,0.0)"/>
<path d="M47.3,50.7 L47.5,50.5 L47.8,50.6 L48.0,51.2 L48.3,52.2 L48.5,53.1 L48.8,53.7 L49.0,54.2 L49.3,54.5 L49.5,54.8 L49.8,55.1 L50.0,55.4 L50.3,55.8 L50.5,56.1 L50.8,56.4 L51.0,56.7 L51.3,56.8 L51.5,56.8 L51.8,56.7 L52.0,56.5 L52.3,56.3 L52.5,56.1 L52.8,56.2 L53.0,56.4 L53.3,56.8 L53.5,57.1 L53.8,57.4 L54.0,57.6 L54.3,57.8 L54.5,57.9 L54.8,58.1 L55.0,58.3 L55.3,58.6 L55.5,58.9 L55.8,59.4 L56.0,60.1 L56.3,61.0 L56.5,62.0 L56.8,63.1 L57.0,64.3 L57.3,65.4 L57.5,66.5 L57.8,67.7 L58.0,68.8 L58.3,69.9 L58.5,71.0 L58.8,72.2 L59.0,73.2 L59.3,74.1 L59.5,74.9 L59.8,75.4 L60.0,75.8 L60.3,76.0 L60.5,76.1 L60.8,76.0 L61.0,75.6 L61.3,75.1 L61.5,74.2 L61.8,72.9 L62.0,71.2 L62.3,69.3 L62.5,67.3 L62.8,65.3 L63.0,63.2 L63.3,61.2 L63.5,59.2 L63.8,57.3 L64.0,55.5 L64.3,54.0 L64.5,53.1 L64.8,52.8 L65.0,52.8 L65.3,52.9 L65.5,53.1 L65.8,53.3 L66.0,53.6 L66.3,53.8 L66.5,54.0 L66.8,54.2 L67.0,54.4 L67.3,54.5 L67.5,54.7 L67.8,54.9 L68.0,55.3 L68.3,55.7 L68.5,56.2 L68.8,56.6 L69.0,56.9 L69.3,57.2 L69.5,57.4 L69.8,57.7 L70.0,58.0 L70.3,58.5 L70.5,59.1 L70.8,59.6 L71.0,59.9 L71.3,60.0 L71.5,60.2 L71.8,60.7 L72.0,61.5 L72.3,62.4 L72.5,63.2 L72.8,64.1 L73.0,65.0 L73.3,65.9 L73.5,66.8 L73.8,67.7 L74.0,68.6 L74.3,69.5 L74.5,70.4 L74.8,71.3 L75.0,72.2 L75.3,73.0 L75.5,73.9 L75.8,74.8 L76.0,75.5 L76.3,76.1 L76.5,76.5 L76.8,76.8 L77.0,77.1 L77.3,77.1 L77.5,76.9 L77.8,76.6 L78.0,76.0 L78.3,75.1 L78.5,73.9 L78.8,72.3 L79.0,70.5 L79.3,68.8 L79.5,67.0 L79.8,65.2 L80.0,63.4 L80.3,61.6 L80.5,59.9 L80.8,58.1 L81.0,56.6 L81.3,55.5 L81.5,55.0 L81.8,54.9 L82.0,54.9 L82.3,55.0 L82.5,55.1 L82.8,55.2 L83.0,55.3 L83.3,55.5 L83.5,55.7 L83.8,55.8 L84.0,56.0 L84.3,56.2 L84.5,56.4 L84.8,56.5 L85.0,56.7 L85.3,56.9 L85.5,57.2 L85.8,57.5 L86.0,57.8 L86.3,58.0 L86.5,58.2 L86.8,58.2 L87.0,58.1 L87.3,58.1 L87.5,58.0 L87.8,57.9 L88.0,57.9 L88.3,57.8 L88.5,57.9 L88.8,58.1 L89.0,58.4 L89.3,58.9 L89.5,59.3 L89.8,60.0 L90.0,60.9 L90.3,62.3 L90.5,63.8 L90.8,65.5 L91.0,67.3 L91.3,69.0 L91.5,70.7 L91.8,72.3 L92.0,73.7 L92.3,74.8 L92.5,75.5 L92.8,76.0 L93.0,76.3 L93.3,76.4 L93.5,76.3 L93.8,76.0 L94.0,75.6 L94.3,74.9 L94.5,74.0 L94.8,72.8 L95.0,71.4 L95.3,70.0 L95.5,68.6 L95.8,67.1 L96.0,65.7 L96.3,64.3 L96.5,62.8 L96.8,61.4 L97.0,60.0 L97.3,58.5 L97.5,57.2 L97.8,56.0 L98.0,55.2 L98.3,54.9 L98.5,54.9 L98.8,55.0 L99.0,55.2 L99.3,55.4 L99.5,55.6 L99.8,55.9 L100.0,56.2 L100.3,56.4 L100.5,56.6 L100.8,56.7 L101.0,56.8 L101.3,56.9 L101.5,57.1 L101.8,57.3 L102.0,57.4 L102.3,57.5 L102.5,57.6 L102.8,57.8 L103.0,57.9 L103.3,58.1 L103.5,58.3 L103.8,58.3 L104.0,58.3 L104.3,58.3 L104.5,58.3 L104.8,58.6 L105.0,58.9 L105.3,59.3 L105.5,59.8 L105.8,60.3 L106.0,61.0 L106.3,61.9 L106.5,62.9 L106.8,64.0 L107.0,65.1 L107.3,66.2 L107.5,67.3 L107.8,68.4 L108.0,69.5 L108.3,70.6 L108.5,71.7 L108.8,72.8 L109.0,73.9 L109.3,74.8 L109.5,75.5 L109.8,76.0 L110.0,76.4 L110.3,76.6 L110.5,76.7 L110.8,76.6 L111.0,76.2 L111.3,75.8 L111.5,75.1 L111.8,74.2 L112.0,73.0 L112.3,71.7 L112.5,70.3 L112.8,69.0 L113.0,67.6 L113.3,66.2 L113.5,64.9 L113.8,63.5 L114.0,62.2 L114.3,60.8 L114.5,59.6 L114.8,58.5 L115.0,57.8 L115.3,57.5 L115.5,57.4 L115.8,57.5 L116.0,57.6 L116.3,57.6 L116.5,57.7 L116.8,57.8 L117.0,57.9 L117.3,58.1 L117.5,58.2 L117.8,58.4 L118.0,58.5 L118.3,58.7 L118.5,58.9 L118.8,59.1 L119.0,59.3 L119.3,59.4 L119.5,59.4 L119.8,59.2 L120.0,59.0 L120.3,58.9 L120.5,58.8 L120.8,58.7 L121.0,58.6 L121.3,58.6 L121.5,58.6 L121.8,58.6 L122.0,58.8 L122.3,59.1 L122.5,59.5 L122.8,59.9 L123.0,60.3 L123.3,60.8 L123.5,61.3 L123.8,62.0 L124.0,62.9 L124.3,64.2 L124.5,65.8 L124.8,67.4 L125.0,69.1 L125.3,70.8 L125.5,72.4 L125.8,73.7 L126.0,74.7 L126.3,75.3 L126.5,75.8 L126.8,76.0 L127.0,76.1 L127.3,76.0 L127.5,75.6 L127.8,75.1 L128.1,74.4 L128.3,73.2 L128.6,71.8 L128.8,70.1 L129.1,68.5 L129.3,66.8 L129.6,65.1 L129.8,63.4 L130.1,61.7 L130.3,60.0 L130.6,58.3 L130.8,56.6 L131.1,54.9 L131.3,53.3 L131.6,51.7 L131.8,50.4 L132.1,49.5 L132.3,49.3 L132.6,49.4 L132.8,49.7 L133.1,50.1 L133.3,50.4 L133.6,50.8 L133.8,51.2 L134.1,51.5 L134.3,51.9 L134.6,52.2 L134.8,52.5 L135.1,52.8 L135.3,53.1 L135.6,53.4 L135.8,53.7 L136.1,53.9 L136.3,54.0 L136.6,54.0 L136.8,53.9 L137.1,53.7 L137.3,53.5 L137.6,53.2 L137.8,53.1 L138.1,53.0 L138.3,53.1 L138.6,53.3 L138.8,53.7 L139.1,54.1 L139.3,54.6 L139.6,55.2 L139.8,55.9 L140.1,56.8 L140.3,58.0 L140.6,59.4 L140.8,60.9 L141.1,62.4 L141.3,63.9 L141.6,65.4 L141.8,67.0 L142.1,68.5 L142.3,70.0 L142.6,71.5 L142.8,73.0 L143.1,74.4 L143.3,75.6 L143.6,76.5 L143.8,77.2 L144.1,77.6 L144.3,77.8 L144.6,77.9 L144.8,77.8 L145.1,77.5 L145.3,77.0 L145.6,76.4 L145.8,75.7 L146.1,74.7 L146.3,73.7 L146.6,72.6 L146.8,71.5 L147.1,70.4 L147.3,69.3 L147.6,68.3 L147.8,67.2 L148.1,66.1 L148.3,65.0 L148.6,64.0 L148.8,63.1 L149.1,62.5 L149.3,62.2 L149.6,62.1 L149.8,62.1 L150.1,62.3 L150.3,62.4 L150.6,62.5 L150.8,62.6 L151.1,62.6 L151.3,62.6 L151.6,62.6 L151.8,62.6 L152.1,62.7 L152.3,62.8 L152.6,63.0 L152.8,63.2 L153.1,63.5 L153.3,63.7 L153.6,63.8 L153.8,63.8 L154.1,63.7 L154.3,63.6 L154.6,63.5 L154.8,63.6 L155.1,64.0 L155.3,64.3 L155.6,64.6 L155.8,64.7 L156.1,64.8 L156.3,65.1 L156.6,65.4 L156.8,65.8 L157.1,66.3 L157.3,66.8 L157.6,67.6 L157.8,68.5 L158.1,69.5 L158.3,70.7 L158.6,71.8 L158.8,72.9 L159.1,74.0 L159.3,74.9 L159.6,75.7 L159.8,76.2 L160.1,76.6 L160.3,76.8 L160.6,76.9 L160.8,76.8 L161.1,76.4 L161.3,76.0 L161.6,75.4 L161.8,74.5 L162.1,73.4 L162.3,72.1 L162.6,70.9 L162.8,69.6 L163.1,68.4 L163.3,67.1 L163.6,65.8 L163.8,64.6 L164.1,63.3 L164.3,62.1 L164.6,60.9 L164.8,59.8 L165.1,59.1 L165.3,58.7 L165.6,58.5 L165.8,58.5 L166.1,58.5 L166.3,58.6 L166.6,58.8 L166.8,59.0 L167.1,59.3 L167.3,59.6 L167.6,59.8 L167.8,59.9 L168.1,60.1 L168.3,60.2 L168.6,60.3 L168.8,60.3 L169.1,60.3 L169.3,60.3 L169.6,60.3 L169.8,60.3 L170.1,60.3 L170.3,60.4 L170.6,60.5 L170.8,60.5 L171.1,60.6 L171.3,60.7 L171.6,60.8 L171.8,61.1 L172.1,61.3 L172.3,61.5 L172.6,61.8 L172.8,62.1 L173.1,62.5 L173.3,63.2 L173.6,64.0 L173.8,64.9 L174.1,65.8 L174.3,66.7 L174.6,67.6 L174.8,68.6 L175.1,69.5 L175.3,70.4 L175.6,71.3 L175.8,72.2 L176.1,73.1 L176.3,74.0 L176.6,74.9 L176.8,75.6 L177.1,76.2 L177.3,76.7 L177.6,77.1 L177.8,77.3 L178.1,77.4 L178.3,77.3 L178.6,76.9 L178.8,76.5 L179.1,75.7 L179.3,74.7 L179.6,73.4 L179.8,71.9 L180.1,70.4 L180.3,68.9 L180.6,67.4 L180.8,65.9 L181.1,64.3 L181.3,62.8 L181.6,61.3 L181.8,59.8 L182.1,58.3 L182.3,56.8 L182.6,55.4 L182.8,54.2 L183.1,53.4 L183.3,53.1 L183.6,53.2 L183.8,53.6 L184.1,54.0 L184.3,54.4 L184.6,54.8 L184.8,55.1 L185.1,55.3 L185.3,55.5 L185.6,55.7 L185.8,55.9 L186.1,56.1 L186.3,56.4 L186.6,56.6 L186.8,57.0 L187.1,57.3 L187.3,57.6 L187.6,57.9 L187.8,58.0 L188.1,58.2 L188.3,58.3 L188.6,58.5 L188.8,58.7 L189.1,58.8 L189.3,58.9 L189.6,58.9 L189.8,59.0 L190.1,59.2 L190.3,59.4 L190.6,59.8 L190.8,60.3 L191.1,60.8 L191.3,61.4 L191.6,62.0 L191.8,62.8 L192.1,63.9 L192.3,65.4 L192.6,67.1 L192.8,68.9 L193.1,70.7 L193.3,72.5 L193.6,74.2 L193.8,75.6 L194.1,76.7 L194.3,77.3 L194.6,77.8 L194.8,78.0 L195.1,78.1 L195.3,78.0 L195.6,77.6 L195.8,77.2 L196.1,76.6 L196.3,75.7 L196.6,74.6 L196.8,73.4 L197.1,72.2 L197.3,70.9 L197.6,69.7 L197.8,68.4 L198.1,67.2 L198.3,66.0 L198.6,64.7 L198.8,63.5 L199.1,62.3 L199.3,61.3 L199.6,60.7 L199.8,60.4 L200.1,60.3 L200.3,60.4 L200.6,60.5 L200.8,60.5 L201.1,60.5 L201.3,60.6 L201.6,60.6 L201.8,60.6 L202.1,60.6 L202.3,60.7 L202.6,60.8 L202.8,60.9 L203.1,61.0 L203.3,61.1 L203.6,61.2 L203.8,61.3 L204.1,61.5 L204.3,61.7 L204.6,61.8 L204.8,61.8 L205.1,61.7 L205.3,61.4 L205.6,61.1 L205.8,60.7 L206.1,60.4 L206.3,60.2 L206.6,60.3 L206.8,60.5 L207.1,60.8 L207.3,61.3 L207.6,61.8 L207.8,62.4 L208.1,63.0 L208.3,63.8 L208.6,64.8 L208.8,66.1 L209.1,67.6 L209.3,69.1 L209.6,70.7 L209.8,72.3 L210.1,73.8 L210.3,75.1 L210.6,76.0 L210.8,76.7 L211.1,77.1 L211.3,77.3 L211.6,77.4 L211.8,77.3 L212.1,77.0 L212.3,76.5 L212.6,76.0 L212.8,75.3 L213.1,74.4 L213.3,73.5 L213.6,72.5 L213.8,71.5 L214.1,70.6 L214.3,69.6 L214.6,68.6 L214.8,67.7 L215.1,66.7 L215.3,65.7 L215.6,64.8 L215.8,64.1 L216.1,63.6 L216.3,63.5 L216.6,63.5 L216.8,63.6 L217.1,63.8 L217.3,63.8 L217.6,63.9 L217.8,63.9 L218.1,63.8 L218.3,63.6 L218.6,63.4 L218.8,63.4 L219.1,63.5 L219.3,63.5 L219.6,63.6 L219.8,63.6 L220.1,63.8 L220.3,64.0 L220.6,64.2 L220.8,64.6 L221.1,64.9 L221.3,65.1 L221.6,65.2 L221.8,65.1 L222.1,64.9 L222.3,64.8 L222.6,64.7 L222.8,64.7 L223.1,64.7 L223.3,64.6 L223.6,64.5 L223.8,64.4 L224.1,64.4 L224.3,64.7 L224.6,65.1 L224.8,65.7 L225.1,66.4 L225.3,67.1 L225.6,68.0 L225.8,68.9 L226.1,69.7 L226.3,70.6 L226.6,71.5 L226.8,72.4 L227.1,73.1 L227.3,73.6 L227.6,73.8 L227.8,73.8 L228.1,74.0 L228.3,74.1 L228.6,74.2 L228.8,74.2 L229.1,74.1 L229.3,74.0 L229.6,73.6 L229.8,72.7 L230.1,71.4 L230.3,69.7 L230.6,67.9 L230.8,66.1 L231.1,64.2 L231.3,62.4 L231.6,60.5 L231.8,58.7 L232.1,57.0 L232.3,55.4 L232.6,54.4 L232.8,53.8 L233.1,53.7 L233.3,53.6 L233.6,53.6 L233.8,53.6 L234.1,53.6 L234.3,53.5 L234.6,53.4 L234.8,53.3 L235.1,53.3 L235.3,53.5 L235.6,53.8 L235.8,54.0 L236.1,54.0 L236.3,53.9 L236.6,53.6 L236.8,53.5 L237.1,53.5 L237.3,53.5 L237.6,53.5 L237.8,53.5 L238.1,53.5 L238.3,53.6 L238.6,53.6 L238.8,53.6 L239.1,53.5 L239.3,53.4 L239.6,53.4 L239.8,53.3 L240.1,53.4 L240.3,53.5 L240.6,53.7 L240.8,54.0 L241.1,54.4 L241.3,54.9 L241.6,55.4 L241.8,56.1 L242.1,57.1 L242.3,58.6 L242.6,60.5 L242.8,62.4 L243.1,64.4 L243.3,66.4 L243.6,68.4 L243.8,70.4 L244.1,72.2 L244.3,73.8 L244.6,74.9 L244.8,75.6 L245.1,76.1 L245.3,76.3 L245.6,76.4 L245.8,76.3 L246.1,75.9 L246.3,75.5 L246.6,74.8 L246.8,73.8 L247.1,72.5 L247.3,71.2 L247.6,69.7 L247.8,68.3 L248.1,66.8 L248.3,65.4 L248.6,64.0 L248.8,62.5 L249.1,61.2 L249.3,60.0 L249.6,59.3 L249.8,58.9 L250.1,58.8 L250.3,58.7 L250.6,58.6 L250.8,58.3 L251.1,58.0 L251.3,57.9 L251.6,57.8 L251.8,57.6 L252.1,57.8 L252.3,56.9 L252.6,53.8 L252.8,49.3 L253.1,44.9 L253.3,40.4 L253.6,35.9 L253.8,31.4 L254.1,27.0 L254.3,22.5 L254.6,20.1 L254.8,26.2 L255.1,32.3 L255.3,38.4 L255.6,44.5 L255.8,50.6 L256.1,55.6 L256.3,56.2 L256.6,56.9 L256.8,57.1 L257.1,57.5 L257.3,57.8 L257.6,58.1 L257.8,58.4 L258.1,59.0 L258.3,59.6 L258.6,60.5 L258.8,61.5 L259.1,62.7 L259.3,64.2 L259.6,65.8 L259.8,67.4 L260.1,69.1 L260.3,70.8 L260.6,72.4 L260.8,73.7 L261.1,74.7 L261.3,75.3 L261.6,75.8 L261.8,76.0 L262.1,76.1 L262.3,76.0 L262.6,75.6 L262.8,75.2 L263.1,74.4 L263.3,73.4 L263.6,72.1 L263.8,70.7 L264.1,69.2 L264.3,67.7 L264.6,66.2 L264.8,64.7 L265.1,63.2 L265.3,61.7 L265.6,60.3 L265.8,59.1 L266.1,58.3 L266.3,57.8 L266.6,57.7 L266.8,57.6 L267.1,57.6 L267.3,57.5 L267.6,57.6 L267.8,57.8 L268.1,58.1 L268.3,58.2 L268.6,58.2 L268.8,58.2 L269.1,58.1 L269.3,58.1 L269.6,58.1 L269.8,58.1 L270.1,58.1 L270.3,58.1 L270.6,58.0 L270.8,57.9 L271.1,57.8 L271.3,57.9 L271.6,58.0 L271.8,58.2 L272.1,58.5 L272.3,58.6 L272.6,58.7 L272.8,58.6 L273.1,58.5 L273.3,58.2 L273.6,58.0 L273.8,57.9 L274.1,58.0 L274.3,58.3 L274.6,58.8 L274.8,59.4 L275.1,60.0 L275.3,60.8 L275.6,61.8 L275.8,63.0 L276.1,64.4 L276.3,66.0 L276.6,67.5 L276.8,69.1 L277.1,70.6 L277.3,72.1 L277.6,73.6 L277.8,74.8 L278.1,75.7 L278.3,76.4 L278.6,76.8 L278.8,77.0 L279.1,77.1 L279.3,77.0 L279.6,76.6 L279.8,76.2 L280.1,75.5 L280.3,74.6 L280.6,73.4 L280.8,72.0 L281.1,70.7 L281.3,69.3 L281.6,67.9 L281.8,66.5 L282.1,65.2 L282.3,63.8 L282.6,62.4 L282.8,61.1 L283.1,59.8 L283.3,58.7 L283.6,58.0 L283.8,57.8 L284.1,57.9 L284.3,58.1 L284.6,58.3 L284.8,58.5 L285.1,58.7 L285.3,58.9 L285.6,58.9 L285.8,59.0 L286.1,59.1 L286.3,59.1 L286.6,59.2 L286.8,59.2 L287.1,59.2 L287.3,59.2 L287.6,59.2 L287.8,59.3 L288.1,59.5 L288.3,59.5 L288.6,59.6 L288.8,59.7 L289.1,59.8 L289.3,59.9 L289.6,60.1 L289.8,60.3 L290.1,60.6 L290.3,60.8 L290.6,61.2 L290.8,61.5 L291.1,61.8 L291.3,61.9 L291.6,62.0 L291.8,62.1 L292.1,62.3 L292.3,62.8 L292.6,63.6 L292.8,64.6 L293.1,65.8 L293.3,67.1 L293.6,68.3 L293.8,69.6 L294.1,70.9 L294.3,72.1 L294.6,73.4 L294.8,74.6 L295.1,75.8 L295.3,76.8 L295.6,77.6 L295.8,78.2 L296.1,78.6 L296.3,78.8 L296.6,78.9 L296.8,78.7 L297.1,78.4 L297.3,77.9 L297.6,77.0 L297.8,75.6 L298.1,73.9 L298.3,71.9 L298.6,69.8 L298.8,67.8 L299.1,65.8 L299.3,64.0 L299.6,62.6 L299.8,61.8" fill="none" stroke="#141418" stroke-width="1.5" stroke-linejoin="round" transform="translate(0,0.0)"/>
<path d="M253.6,38 L254.5,19.8 L255.3,38Z" fill="#666" fill-opacity="0.7" transform="translate(0,94.8)"/>
<path d="M47.3,50.7 L47.5,50.5 L47.8,50.6 L48.0,51.2 L48.3,52.2 L48.5,53.1 L48.8,53.7 L49.0,54.2 L49.3,54.5 L49.5,54.8 L49.8,55.1 L50.0,55.4 L50.3,55.8 L50.5,56.1 L50.8,56.4 L51.0,56.7 L51.3,56.8 L51.5,56.8 L51.8,56.7 L52.0,56.5 L52.3,56.3 L52.5,56.1 L52.8,56.2 L53.0,56.4 L53.3,56.8 L53.5,57.1 L53.8,57.4 L54.0,57.6 L54.3,57.8 L54.5,57.9 L54.8,58.1 L55.0,58.3 L55.3,58.6 L55.5,58.9 L55.8,59.4 L56.0,60.1 L56.3,61.0 L56.5,62.0 L56.8,63.1 L57.0,64.3 L57.3,65.4 L57.5,66.5 L57.8,67.7 L58.0,68.8 L58.3,69.9 L58.5,71.0 L58.8,72.2 L59.0,73.2 L59.3,74.1 L59.5,74.9 L59.8,75.4 L60.0,75.8 L60.3,76.0 L60.5,76.1 L60.8,76.0 L61.0,75.6 L61.3,75.1 L61.5,74.2 L61.8,72.9 L62.0,71.2 L62.3,69.3 L62.5,67.3 L62.8,65.3 L63.0,63.2 L63.3,61.2 L63.5,59.2 L63.8,57.3 L64.0,55.5 L64.3,54.0 L64.5,53.1 L64.8,52.8 L65.0,52.8 L65.3,52.9 L65.5,53.1 L65.8,53.3 L66.0,53.6 L66.3,53.8 L66.5,54.0 L66.8,54.2 L67.0,54.4 L67.3,54.5 L67.5,54.7 L67.8,54.9 L68.0,55.3 L68.3,55.7 L68.5,56.2 L68.8,56.6 L69.0,56.9 L69.3,57.2 L69.5,57.4 L69.8,57.7 L70.0,58.0 L70.3,58.5 L70.5,59.1 L70.8,59.6 L71.0,59.9 L71.3,60.0 L71.5,60.2 L71.8,60.7 L72.0,61.5 L72.3,62.4 L72.5,63.2 L72.8,64.1 L73.0,65.0 L73.3,65.9 L73.5,66.8 L73.8,67.7 L74.0,68.6 L74.3,69.5 L74.5,70.4 L74.8,71.3 L75.0,72.2 L75.3,73.0 L75.5,73.9 L75.8,74.8 L76.0,75.5 L76.3,76.1 L76.5,76.5 L76.8,76.8 L77.0,77.1 L77.3,77.1 L77.5,76.9 L77.8,76.6 L78.0,76.0 L78.3,75.1 L78.5,73.9 L78.8,72.3 L79.0,70.5 L79.3,68.8 L79.5,67.0 L79.8,65.2 L80.0,63.4 L80.3,61.6 L80.5,59.9 L80.8,58.1 L81.0,56.6 L81.3,55.5 L81.5,55.0 L81.8,54.9 L82.0,54.9 L82.3,55.0 L82.5,55.1 L82.8,55.2 L83.0,55.3 L83.3,55.5 L83.5,55.7 L83.8,55.8 L84.0,56.0 L84.3,56.2 L84.5,56.4 L84.8,56.5 L85.0,56.7 L85.3,56.9 L85.5,57.2 L85.8,57.5 L86.0,57.8 L86.3,58.0 L86.5,58.2 L86.8,58.2 L87.0,58.1 L87.3,58.1 L87.5,58.0 L87.8,57.9 L88.0,57.9 L88.3,57.8 L88.5,57.9 L88.8,58.1 L89.0,58.4 L89.3,58.9 L89.5,59.3 L89.8,60.0 L90.0,60.9 L90.3,62.3 L90.5,63.8 L90.8,65.5 L91.0,67.3 L91.3,69.0 L91.5,70.7 L91.8,72.3 L92.0,73.7 L92.3,74.8 L92.5,75.5 L92.8,76.0 L93.0,76.3 L93.3,76.4 L93.5,76.3 L93.8,76.0 L94.0,75.6 L94.3,74.9 L94.5,74.0 L94.8,72.8 L95.0,71.4 L95.3,70.0 L95.5,68.6 L95.8,67.1 L96.0,65.7 L96.3,64.3 L96.5,62.8 L96.8,61.4 L97.0,60.0 L97.3,58.5 L97.5,57.2 L97.8,56.0 L98.0,55.2 L98.3,54.9 L98.5,54.9 L98.8,55.0 L99.0,55.2 L99.3,55.4 L99.5,55.6 L99.8,55.9 L100.0,56.2 L100.3,56.4 L100.5,56.6 L100.8,56.7 L101.0,56.8 L101.3,56.9 L101.5,57.1 L101.8,57.3 L102.0,57.4 L102.3,57.5 L102.5,57.6 L102.8,57.8 L103.0,57.9 L103.3,58.1 L103.5,58.3 L103.8,58.3 L104.0,58.3 L104.3,58.3 L104.5,58.3 L104.8,58.6 L105.0,58.9 L105.3,59.3 L105.5,59.8 L105.8,60.3 L106.0,61.0 L106.3,61.9 L106.5,62.9 L106.8,64.0 L107.0,65.1 L107.3,66.2 L107.5,67.3 L107.8,68.4 L108.0,69.5 L108.3,70.6 L108.5,71.7 L108.8,72.8 L109.0,73.9 L109.3,74.8 L109.5,75.5 L109.8,76.0 L110.0,76.4 L110.3,76.6 L110.5,76.7 L110.8,76.6 L111.0,76.2 L111.3,75.8 L111.5,75.1 L111.8,74.2 L112.0,73.0 L112.3,71.7 L112.5,70.3 L112.8,69.0 L113.0,67.6 L113.3,66.2 L113.5,64.9 L113.8,63.5 L114.0,62.2 L114.3,60.8 L114.5,59.6 L114.8,58.5 L115.0,57.8 L115.3,57.5 L115.5,57.4 L115.8,57.5 L116.0,57.6 L116.3,57.6 L116.5,57.7 L116.8,57.8 L117.0,57.9 L117.3,58.1 L117.5,58.2 L117.8,58.4 L118.0,58.5 L118.3,58.7 L118.5,58.9 L118.8,59.1 L119.0,59.3 L119.3,59.4 L119.5,59.4 L119.8,59.2 L120.0,59.0 L120.3,58.9 L120.5,58.8 L120.8,58.7 L121.0,58.6 L121.3,58.6 L121.5,58.6 L121.8,58.6 L122.0,58.8 L122.3,59.1 L122.5,59.5 L122.8,59.9 L123.0,60.3 L123.3,60.8 L123.5,61.3 L123.8,62.0 L124.0,62.9 L124.3,64.2 L124.5,65.8 L124.8,67.4 L125.0,69.1 L125.3,70.8 L125.5,72.4 L125.8,73.7 L126.0,74.7 L126.3,75.3 L126.5,75.8 L126.8,76.0 L127.0,76.1 L127.3,76.0 L127.5,75.6 L127.8,75.1 L128.1,74.4 L128.3,73.2 L128.6,71.8 L128.8,70.1 L129.1,68.5 L129.3,66.8 L129.6,65.1 L129.8,63.4 L130.1,61.7 L130.3,60.0 L130.6,58.3 L130.8,56.6 L131.1,54.9 L131.3,53.3 L131.6,51.7 L131.8,50.4 L132.1,49.5 L132.3,49.3 L132.6,49.4 L132.8,49.7 L133.1,50.1 L133.3,50.4 L133.6,50.8 L133.8,51.2 L134.1,51.5 L134.3,51.9 L134.6,52.2 L134.8,52.5 L135.1,52.8 L135.3,53.1 L135.6,53.4 L135.8,53.7 L136.1,53.9 L136.3,54.0 L136.6,54.0 L136.8,53.9 L137.1,53.7 L137.3,53.5 L137.6,53.2 L137.8,53.1 L138.1,53.0 L138.3,53.1 L138.6,53.3 L138.8,53.7 L139.1,54.1 L139.3,54.6 L139.6,55.2 L139.8,55.9 L140.1,56.8 L140.3,58.0 L140.6,59.4 L140.8,60.9 L141.1,62.4 L141.3,63.9 L141.6,65.4 L141.8,67.0 L142.1,68.5 L142.3,70.0 L142.6,71.5 L142.8,73.0 L143.1,74.4 L143.3,75.6 L143.6,76.5 L143.8,77.2 L144.1,77.6 L144.3,77.8 L144.6,77.9 L144.8,77.8 L145.1,77.5 L145.3,77.0 L145.6,76.4 L145.8,75.7 L146.1,74.7 L146.3,73.7 L146.6,72.6 L146.8,71.5 L147.1,70.4 L147.3,69.3 L147.6,68.3 L147.8,67.2 L148.1,66.1 L148.3,65.0 L148.6,64.0 L148.8,63.1 L149.1,62.5 L149.3,62.2 L149.6,62.1 L149.8,62.1 L150.1,62.3 L150.3,62.4 L150.6,62.5 L150.8,62.6 L151.1,62.6 L151.3,62.6 L151.6,62.6 L151.8,62.6 L152.1,62.7 L152.3,62.8 L152.6,63.0 L152.8,63.2 L153.1,63.5 L153.3,63.7 L153.6,63.8 L153.8,63.8 L154.1,63.7 L154.3,63.6 L154.6,63.5 L154.8,63.6 L155.1,64.0 L155.3,64.3 L155.6,64.6 L155.8,64.7 L156.1,64.8 L156.3,65.1 L156.6,65.4 L156.8,65.8 L157.1,66.3 L157.3,66.8 L157.6,67.6 L157.8,68.5 L158.1,69.5 L158.3,70.7 L158.6,71.8 L158.8,72.9 L159.1,74.0 L159.3,74.9 L159.6,75.7 L159.8,76.2 L160.1,76.6 L160.3,76.8 L160.6,76.9 L160.8,76.8 L161.1,76.4 L161.3,76.0 L161.6,75.4 L161.8,74.5 L162.1,73.4 L162.3,72.1 L162.6,70.9 L162.8,69.6 L163.1,68.4 L163.3,67.1 L163.6,65.8 L163.8,64.6 L164.1,63.3 L164.3,62.1 L164.6,60.9 L164.8,59.8 L165.1,59.1 L165.3,58.7 L165.6,58.5 L165.8,58.5 L166.1,58.5 L166.3,58.6 L166.6,58.8 L166.8,59.0 L167.1,59.3 L167.3,59.6 L167.6,59.8 L167.8,59.9 L168.1,60.1 L168.3,60.2 L168.6,60.3 L168.8,60.3 L169.1,60.3 L169.3,60.3 L169.6,60.3 L169.8,60.3 L170.1,60.3 L170.3,60.4 L170.6,60.5 L170.8,60.5 L171.1,60.6 L171.3,60.7 L171.6,60.8 L171.8,61.1 L172.1,61.3 L172.3,61.5 L172.6,61.8 L172.8,62.1 L173.1,62.5 L173.3,63.2 L173.6,64.0 L173.8,64.9 L174.1,65.8 L174.3,66.7 L174.6,67.6 L174.8,68.6 L175.1,69.5 L175.3,70.4 L175.6,71.3 L175.8,72.2 L176.1,73.1 L176.3,74.0 L176.6,74.9 L176.8,75.6 L177.1,76.2 L177.3,76.7 L177.6,77.1 L177.8,77.3 L178.1,77.4 L178.3,77.3 L178.6,76.9 L178.8,76.5 L179.1,75.7 L179.3,74.7 L179.6,73.4 L179.8,71.9 L180.1,70.4 L180.3,68.9 L180.6,67.4 L180.8,65.9 L181.1,64.3 L181.3,62.8 L181.6,61.3 L181.8,59.8 L182.1,58.3 L182.3,56.8 L182.6,55.4 L182.8,54.2 L183.1,53.4 L183.3,53.1 L183.6,53.2 L183.8,53.6 L184.1,54.0 L184.3,54.4 L184.6,54.8 L184.8,55.1 L185.1,55.3 L185.3,55.5 L185.6,55.7 L185.8,55.9 L186.1,56.1 L186.3,56.4 L186.6,56.6 L186.8,57.0 L187.1,57.3 L187.3,57.6 L187.6,57.9 L187.8,58.0 L188.1,58.2 L188.3,58.3 L188.6,58.5 L188.8,58.7 L189.1,58.8 L189.3,58.9 L189.6,58.9 L189.8,59.0 L190.1,59.2 L190.3,59.4 L190.6,59.8 L190.8,60.3 L191.1,60.8 L191.3,61.4 L191.6,62.0 L191.8,62.8 L192.1,63.9 L192.3,65.4 L192.6,67.1 L192.8,68.9 L193.1,70.7 L193.3,72.5 L193.6,74.2 L193.8,75.6 L194.1,76.7 L194.3,77.3 L194.6,77.8 L194.8,78.0 L195.1,78.1 L195.3,78.0 L195.6,77.6 L195.8,77.2 L196.1,76.6 L196.3,75.7 L196.6,74.6 L196.8,73.4 L197.1,72.2 L197.3,70.9 L197.6,69.7 L197.8,68.4 L198.1,67.2 L198.3,66.0 L198.6,64.7 L198.8,63.5 L199.1,62.3 L199.3,61.3 L199.6,60.7 L199.8,60.4 L200.1,60.3 L200.3,60.4 L200.6,60.5 L200.8,60.5 L201.1,60.5 L201.3,60.6 L201.6,60.6 L201.8,60.6 L202.1,60.6 L202.3,60.7 L202.6,60.8 L202.8,60.9 L203.1,61.0 L203.3,61.1 L203.6,61.2 L203.8,61.3 L204.1,61.5 L204.3,61.7 L204.6,61.8 L204.8,61.8 L205.1,61.7 L205.3,61.4 L205.6,61.1 L205.8,60.7 L206.1,60.4 L206.3,60.2 L206.6,60.3 L206.8,60.5 L207.1,60.8 L207.3,61.3 L207.6,61.8 L207.8,62.4 L208.1,63.0 L208.3,63.8 L208.6,64.8 L208.8,66.1 L209.1,67.6 L209.3,69.1 L209.6,70.7 L209.8,72.3 L210.1,73.8 L210.3,75.1 L210.6,76.0 L210.8,76.7 L211.1,77.1 L211.3,77.3 L211.6,77.4 L211.8,77.3 L212.1,77.0 L212.3,76.5 L212.6,76.0 L212.8,75.3 L213.1,74.4 L213.3,73.5 L213.6,72.5 L213.8,71.5 L214.1,70.6 L214.3,69.6 L214.6,68.6 L214.8,67.7 L215.1,66.7 L215.3,65.7 L215.6,64.8 L215.8,64.1 L216.1,63.6 L216.3,63.5 L216.6,63.5 L216.8,63.6 L217.1,63.8 L217.3,63.8 L217.6,63.9 L217.8,63.9 L218.1,63.8 L218.3,63.6 L218.6,63.4 L218.8,63.4 L219.1,63.5 L219.3,63.5 L219.6,63.6 L219.8,63.6 L220.1,63.8 L220.3,64.0 L220.6,64.2 L220.8,64.6 L221.1,64.9 L221.3,65.1 L221.6,65.2 L221.8,65.1 L222.1,64.9 L222.3,64.8 L222.6,64.7 L222.8,64.7 L223.1,64.7 L223.3,64.6 L223.6,64.5 L223.8,64.4 L224.1,64.4 L224.3,64.7 L224.6,65.1 L224.8,65.7 L225.1,66.4 L225.3,67.1 L225.6,68.0 L225.8,68.9 L226.1,69.7 L226.3,70.6 L226.6,71.5 L226.8,72.4 L227.1,73.1 L227.3,73.6 L227.6,73.8 L227.8,73.8 L228.1,74.0 L228.3,74.1 L228.6,74.2 L228.8,74.2 L229.1,74.1 L229.3,74.0 L229.6,73.6 L229.8,72.7 L230.1,71.4 L230.3,69.7 L230.6,67.9 L230.8,66.1 L231.1,64.2 L231.3,62.4 L231.6,60.5 L231.8,58.7 L232.1,57.0 L232.3,55.4 L232.6,54.4 L232.8,53.8 L233.1,53.7 L233.3,53.6 L233.6,53.6 L233.8,53.6 L234.1,53.6 L234.3,53.5 L234.6,53.4 L234.8,53.3 L235.1,53.3 L235.3,53.5 L235.6,53.8 L235.8,54.0 L236.1,54.0 L236.3,53.9 L236.6,53.6 L236.8,53.5 L237.1,53.5 L237.3,53.5 L237.6,53.5 L237.8,53.5 L238.1,53.5 L238.3,53.6 L238.6,53.6 L238.8,53.6 L239.1,53.5 L239.3,53.4 L239.6,53.4 L239.8,53.3 L240.1,53.4 L240.3,53.5 L240.6,53.7 L240.8,54.0 L241.1,54.4 L241.3,54.9 L241.6,55.4 L241.8,56.1 L242.1,57.1 L242.3,58.6 L242.6,60.5 L242.8,62.4 L243.1,64.4 L243.3,66.4 L243.6,68.4 L243.8,70.4 L244.1,72.2 L244.3,73.8 L244.6,74.9 L244.8,75.6 L245.1,76.1 L245.3,76.3 L245.6,76.4 L245.8,76.3 L246.1,75.9 L246.3,75.5 L246.6,74.8 L246.8,73.8 L247.1,72.5 L247.3,71.2 L247.6,69.7 L247.8,68.3 L248.1,66.8 L248.3,65.4 L248.6,64.0 L248.8,62.5 L249.1,61.2 L249.3,60.0 L249.6,59.3 L249.8,58.9 L250.1,58.8 L250.3,58.7 L250.6,58.6 L250.8,58.3 L251.1,58.0 L251.3,57.9 L251.6,57.8 L251.8,57.6 L252.1,57.8 L252.3,56.9 L252.6,53.8 L252.8,49.3 L253.1,44.9 L253.3,40.4 L253.6,35.9 L253.8,31.4 L254.1,27.0 L254.3,22.5 L254.6,20.1 L254.8,26.2 L255.1,32.3 L255.3,38.4 L255.6,44.5 L255.8,50.6 L256.1,55.6 L256.3,56.2 L256.6,56.9 L256.8,57.1 L257.1,57.5 L257.3,57.8 L257.6,58.1 L257.8,58.4 L258.1,59.0 L258.3,59.6 L258.6,60.5 L258.8,61.5 L259.1,62.7 L259.3,64.2 L259.6,65.8 L259.8,67.4 L260.1,69.1 L260.3,70.8 L260.6,72.4 L260.8,73.7 L261.1,74.7 L261.3,75.3 L261.6,75.8 L261.8,76.0 L262.1,76.1 L262.3,76.0 L262.6,75.6 L262.8,75.2 L263.1,74.4 L263.3,73.4 L263.6,72.1 L263.8,70.7 L264.1,69.2 L264.3,67.7 L264.6,66.2 L264.8,64.7 L265.1,63.2 L265.3,61.7 L265.6,60.3 L265.8,59.1 L266.1,58.3 L266.3,57.8 L266.6,57.7 L266.8,57.6 L267.1,57.6 L267.3,57.5 L267.6,57.6 L267.8,57.8 L268.1,58.1 L268.3,58.2 L268.6,58.2 L268.8,58.2 L269.1,58.1 L269.3,58.1 L269.6,58.1 L269.8,58.1 L270.1,58.1 L270.3,58.1 L270.6,58.0 L270.8,57.9 L271.1,57.8 L271.3,57.9 L271.6,58.0 L271.8,58.2 L272.1,58.5 L272.3,58.6 L272.6,58.7 L272.8,58.6 L273.1,58.5 L273.3,58.2 L273.6,58.0 L273.8,57.9 L274.1,58.0 L274.3,58.3 L274.6,58.8 L274.8,59.4 L275.1,60.0 L275.3,60.8 L275.6,61.8 L275.8,63.0 L276.1,64.4 L276.3,66.0 L276.6,67.5 L276.8,69.1 L277.1,70.6 L277.3,72.1 L277.6,73.6 L277.8,74.8 L278.1,75.7 L278.3,76.4 L278.6,76.8 L278.8,77.0 L279.1,77.1 L279.3,77.0 L279.6,76.6 L279.8,76.2 L280.1,75.5 L280.3,74.6 L280.6,73.4 L280.8,72.0 L281.1,70.7 L281.3,69.3 L281.6,67.9 L281.8,66.5 L282.1,65.2 L282.3,63.8 L282.6,62.4 L282.8,61.1 L283.1,59.8 L283.3,58.7 L283.6,58.0 L283.8,57.8 L284.1,57.9 L284.3,58.1 L284.6,58.3 L284.8,58.5 L285.1,58.7 L285.3,58.9 L285.6,58.9 L285.8,59.0 L286.1,59.1 L286.3,59.1 L286.6,59.2 L286.8,59.2 L287.1,59.2 L287.3,59.2 L287.6,59.2 L287.8,59.3 L288.1,59.5 L288.3,59.5 L288.6,59.6 L288.8,59.7 L289.1,59.8 L289.3,59.9 L289.6,60.1 L289.8,60.3 L290.1,60.6 L290.3,60.8 L290.6,61.2 L290.8,61.5 L291.1,61.8 L291.3,61.9 L291.6,62.0 L291.8,62.1 L292.1,62.3 L292.3,62.8 L292.6,63.6 L292.8,64.6 L293.1,65.8 L293.3,67.1 L293.6,68.3 L293.8,69.6 L294.1,70.9 L294.3,72.1 L294.6,73.4 L294.8,74.6 L295.1,75.8 L295.3,76.8 L295.6,77.6 L295.8,78.2 L296.1,78.6 L296.3,78.8 L296.6,78.9 L296.8,78.7 L297.1,78.4 L297.3,77.9 L297.6,77.0 L297.8,75.6 L298.1,73.9 L298.3,71.9 L298.6,69.8 L298.8,67.8 L299.1,65.8 L299.3,64.0 L299.6,62.6 L299.8,61.8" fill="none" stroke="#141418" stroke-width="1.5" stroke-linejoin="round" transform="translate(0,94.8)"/>
<path d="M252.6,56 L254.5,19.8 L255.9,55Z" fill="#666" fill-opacity="0.7" transform="translate(0,189.4)"/>
<path d="M47.3,50.7 L47.5,50.5 L47.8,50.6 L48.0,51.2 L48.3,52.2 L48.5,53.1 L48.8,53.7 L49.0,54.2 L49.3,54.5 L49.5,54.8 L49.8,55.1 L50.0,55.4 L50.3,55.8 L50.5,56.1 L50.8,56.4 L51.0,56.7 L51.3,56.8 L51.5,56.8 L51.8,56.7 L52.0,56.5 L52.3,56.3 L52.5,56.1 L52.8,56.2 L53.0,56.4 L53.3,56.8 L53.5,57.1 L53.8,57.4 L54.0,57.6 L54.3,57.8 L54.5,57.9 L54.8,58.1 L55.0,58.3 L55.3,58.6 L55.5,58.9 L55.8,59.4 L56.0,60.1 L56.3,61.0 L56.5,62.0 L56.8,63.1 L57.0,64.3 L57.3,65.4 L57.5,66.5 L57.8,67.7 L58.0,68.8 L58.3,69.9 L58.5,71.0 L58.8,72.2 L59.0,73.2 L59.3,74.1 L59.5,74.9 L59.8,75.4 L60.0,75.8 L60.3,76.0 L60.5,76.1 L60.8,76.0 L61.0,75.6 L61.3,75.1 L61.5,74.2 L61.8,72.9 L62.0,71.2 L62.3,69.3 L62.5,67.3 L62.8,65.3 L63.0,63.2 L63.3,61.2 L63.5,59.2 L63.8,57.3 L64.0,55.5 L64.3,54.0 L64.5,53.1 L64.8,52.8 L65.0,52.8 L65.3,52.9 L65.5,53.1 L65.8,53.3 L66.0,53.6 L66.3,53.8 L66.5,54.0 L66.8,54.2 L67.0,54.4 L67.3,54.5 L67.5,54.7 L67.8,54.9 L68.0,55.3 L68.3,55.7 L68.5,56.2 L68.8,56.6 L69.0,56.9 L69.3,57.2 L69.5,57.4 L69.8,57.7 L70.0,58.0 L70.3,58.5 L70.5,59.1 L70.8,59.6 L71.0,59.9 L71.3,60.0 L71.5,60.2 L71.8,60.7 L72.0,61.5 L72.3,62.4 L72.5,63.2 L72.8,64.1 L73.0,65.0 L73.3,65.9 L73.5,66.8 L73.8,67.7 L74.0,68.6 L74.3,69.5 L74.5,70.4 L74.8,71.3 L75.0,72.2 L75.3,73.0 L75.5,73.9 L75.8,74.8 L76.0,75.5 L76.3,76.1 L76.5,76.5 L76.8,76.8 L77.0,77.1 L77.3,77.1 L77.5,76.9 L77.8,76.6 L78.0,76.0 L78.3,75.1 L78.5,73.9 L78.8,72.3 L79.0,70.5 L79.3,68.8 L79.5,67.0 L79.8,65.2 L80.0,63.4 L80.3,61.6 L80.5,59.9 L80.8,58.1 L81.0,56.6 L81.3,55.5 L81.5,55.0 L81.8,54.9 L82.0,54.9 L82.3,55.0 L82.5,55.1 L82.8,55.2 L83.0,55.3 L83.3,55.5 L83.5,55.7 L83.8,55.8 L84.0,56.0 L84.3,56.2 L84.5,56.4 L84.8,56.5 L85.0,56.7 L85.3,56.9 L85.5,57.2 L85.8,57.5 L86.0,57.8 L86.3,58.0 L86.5,58.2 L86.8,58.2 L87.0,58.1 L87.3,58.1 L87.5,58.0 L87.8,57.9 L88.0,57.9 L88.3,57.8 L88.5,57.9 L88.8,58.1 L89.0,58.4 L89.3,58.9 L89.5,59.3 L89.8,60.0 L90.0,60.9 L90.3,62.3 L90.5,63.8 L90.8,65.5 L91.0,67.3 L91.3,69.0 L91.5,70.7 L91.8,72.3 L92.0,73.7 L92.3,74.8 L92.5,75.5 L92.8,76.0 L93.0,76.3 L93.3,76.4 L93.5,76.3 L93.8,76.0 L94.0,75.6 L94.3,74.9 L94.5,74.0 L94.8,72.8 L95.0,71.4 L95.3,70.0 L95.5,68.6 L95.8,67.1 L96.0,65.7 L96.3,64.3 L96.5,62.8 L96.8,61.4 L97.0,60.0 L97.3,58.5 L97.5,57.2 L97.8,56.0 L98.0,55.2 L98.3,54.9 L98.5,54.9 L98.8,55.0 L99.0,55.2 L99.3,55.4 L99.5,55.6 L99.8,55.9 L100.0,56.2 L100.3,56.4 L100.5,56.6 L100.8,56.7 L101.0,56.8 L101.3,56.9 L101.5,57.1 L101.8,57.3 L102.0,57.4 L102.3,57.5 L102.5,57.6 L102.8,57.8 L103.0,57.9 L103.3,58.1 L103.5,58.3 L103.8,58.3 L104.0,58.3 L104.3,58.3 L104.5,58.3 L104.8,58.6 L105.0,58.9 L105.3,59.3 L105.5,59.8 L105.8,60.3 L106.0,61.0 L106.3,61.9 L106.5,62.9 L106.8,64.0 L107.0,65.1 L107.3,66.2 L107.5,67.3 L107.8,68.4 L108.0,69.5 L108.3,70.6 L108.5,71.7 L108.8,72.8 L109.0,73.9 L109.3,74.8 L109.5,75.5 L109.8,76.0 L110.0,76.4 L110.3,76.6 L110.5,76.7 L110.8,76.6 L111.0,76.2 L111.3,75.8 L111.5,75.1 L111.8,74.2 L112.0,73.0 L112.3,71.7 L112.5,70.3 L112.8,69.0 L113.0,67.6 L113.3,66.2 L113.5,64.9 L113.8,63.5 L114.0,62.2 L114.3,60.8 L114.5,59.6 L114.8,58.5 L115.0,57.8 L115.3,57.5 L115.5,57.4 L115.8,57.5 L116.0,57.6 L116.3,57.6 L116.5,57.7 L116.8,57.8 L117.0,57.9 L117.3,58.1 L117.5,58.2 L117.8,58.4 L118.0,58.5 L118.3,58.7 L118.5,58.9 L118.8,59.1 L119.0,59.3 L119.3,59.4 L119.5,59.4 L119.8,59.2 L120.0,59.0 L120.3,58.9 L120.5,58.8 L120.8,58.7 L121.0,58.6 L121.3,58.6 L121.5,58.6 L121.8,58.6 L122.0,58.8 L122.3,59.1 L122.5,59.5 L122.8,59.9 L123.0,60.3 L123.3,60.8 L123.5,61.3 L123.8,62.0 L124.0,62.9 L124.3,64.2 L124.5,65.8 L124.8,67.4 L125.0,69.1 L125.3,70.8 L125.5,72.4 L125.8,73.7 L126.0,74.7 L126.3,75.3 L126.5,75.8 L126.8,76.0 L127.0,76.1 L127.3,76.0 L127.5,75.6 L127.8,75.1 L128.1,74.4 L128.3,73.2 L128.6,71.8 L128.8,70.1 L129.1,68.5 L129.3,66.8 L129.6,65.1 L129.8,63.4 L130.1,61.7 L130.3,60.0 L130.6,58.3 L130.8,56.6 L131.1,54.9 L131.3,53.3 L131.6,51.7 L131.8,50.4 L132.1,49.5 L132.3,49.3 L132.6,49.4 L132.8,49.7 L133.1,50.1 L133.3,50.4 L133.6,50.8 L133.8,51.2 L134.1,51.5 L134.3,51.9 L134.6,52.2 L134.8,52.5 L135.1,52.8 L135.3,53.1 L135.6,53.4 L135.8,53.7 L136.1,53.9 L136.3,54.0 L136.6,54.0 L136.8,53.9 L137.1,53.7 L137.3,53.5 L137.6,53.2 L137.8,53.1 L138.1,53.0 L138.3,53.1 L138.6,53.3 L138.8,53.7 L139.1,54.1 L139.3,54.6 L139.6,55.2 L139.8,55.9 L140.1,56.8 L140.3,58.0 L140.6,59.4 L140.8,60.9 L141.1,62.4 L141.3,63.9 L141.6,65.4 L141.8,67.0 L142.1,68.5 L142.3,70.0 L142.6,71.5 L142.8,73.0 L143.1,74.4 L143.3,75.6 L143.6,76.5 L143.8,77.2 L144.1,77.6 L144.3,77.8 L144.6,77.9 L144.8,77.8 L145.1,77.5 L145.3,77.0 L145.6,76.4 L145.8,75.7 L146.1,74.7 L146.3,73.7 L146.6,72.6 L146.8,71.5 L147.1,70.4 L147.3,69.3 L147.6,68.3 L147.8,67.2 L148.1,66.1 L148.3,65.0 L148.6,64.0 L148.8,63.1 L149.1,62.5 L149.3,62.2 L149.6,62.1 L149.8,62.1 L150.1,62.3 L150.3,62.4 L150.6,62.5 L150.8,62.6 L151.1,62.6 L151.3,62.6 L151.6,62.6 L151.8,62.6 L152.1,62.7 L152.3,62.8 L152.6,63.0 L152.8,63.2 L153.1,63.5 L153.3,63.7 L153.6,63.8 L153.8,63.8 L154.1,63.7 L154.3,63.6 L154.6,63.5 L154.8,63.6 L155.1,64.0 L155.3,64.3 L155.6,64.6 L155.8,64.7 L156.1,64.8 L156.3,65.1 L156.6,65.4 L156.8,65.8 L157.1,66.3 L157.3,66.8 L157.6,67.6 L157.8,68.5 L158.1,69.5 L158.3,70.7 L158.6,71.8 L158.8,72.9 L159.1,74.0 L159.3,74.9 L159.6,75.7 L159.8,76.2 L160.1,76.6 L160.3,76.8 L160.6,76.9 L160.8,76.8 L161.1,76.4 L161.3,76.0 L161.6,75.4 L161.8,74.5 L162.1,73.4 L162.3,72.1 L162.6,70.9 L162.8,69.6 L163.1,68.4 L163.3,67.1 L163.6,65.8 L163.8,64.6 L164.1,63.3 L164.3,62.1 L164.6,60.9 L164.8,59.8 L165.1,59.1 L165.3,58.7 L165.6,58.5 L165.8,58.5 L166.1,58.5 L166.3,58.6 L166.6,58.8 L166.8,59.0 L167.1,59.3 L167.3,59.6 L167.6,59.8 L167.8,59.9 L168.1,60.1 L168.3,60.2 L168.6,60.3 L168.8,60.3 L169.1,60.3 L169.3,60.3 L169.6,60.3 L169.8,60.3 L170.1,60.3 L170.3,60.4 L170.6,60.5 L170.8,60.5 L171.1,60.6 L171.3,60.7 L171.6,60.8 L171.8,61.1 L172.1,61.3 L172.3,61.5 L172.6,61.8 L172.8,62.1 L173.1,62.5 L173.3,63.2 L173.6,64.0 L173.8,64.9 L174.1,65.8 L174.3,66.7 L174.6,67.6 L174.8,68.6 L175.1,69.5 L175.3,70.4 L175.6,71.3 L175.8,72.2 L176.1,73.1 L176.3,74.0 L176.6,74.9 L176.8,75.6 L177.1,76.2 L177.3,76.7 L177.6,77.1 L177.8,77.3 L178.1,77.4 L178.3,77.3 L178.6,76.9 L178.8,76.5 L179.1,75.7 L179.3,74.7 L179.6,73.4 L179.8,71.9 L180.1,70.4 L180.3,68.9 L180.6,67.4 L180.8,65.9 L181.1,64.3 L181.3,62.8 L181.6,61.3 L181.8,59.8 L182.1,58.3 L182.3,56.8 L182.6,55.4 L182.8,54.2 L183.1,53.4 L183.3,53.1 L183.6,53.2 L183.8,53.6 L184.1,54.0 L184.3,54.4 L184.6,54.8 L184.8,55.1 L185.1,55.3 L185.3,55.5 L185.6,55.7 L185.8,55.9 L186.1,56.1 L186.3,56.4 L186.6,56.6 L186.8,57.0 L187.1,57.3 L187.3,57.6 L187.6,57.9 L187.8,58.0 L188.1,58.2 L188.3,58.3 L188.6,58.5 L188.8,58.7 L189.1,58.8 L189.3,58.9 L189.6,58.9 L189.8,59.0 L190.1,59.2 L190.3,59.4 L190.6,59.8 L190.8,60.3 L191.1,60.8 L191.3,61.4 L191.6,62.0 L191.8,62.8 L192.1,63.9 L192.3,65.4 L192.6,67.1 L192.8,68.9 L193.1,70.7 L193.3,72.5 L193.6,74.2 L193.8,75.6 L194.1,76.7 L194.3,77.3 L194.6,77.8 L194.8,78.0 L195.1,78.1 L195.3,78.0 L195.6,77.6 L195.8,77.2 L196.1,76.6 L196.3,75.7 L196.6,74.6 L196.8,73.4 L197.1,72.2 L197.3,70.9 L197.6,69.7 L197.8,68.4 L198.1,67.2 L198.3,66.0 L198.6,64.7 L198.8,63.5 L199.1,62.3 L199.3,61.3 L199.6,60.7 L199.8,60.4 L200.1,60.3 L200.3,60.4 L200.6,60.5 L200.8,60.5 L201.1,60.5 L201.3,60.6 L201.6,60.6 L201.8,60.6 L202.1,60.6 L202.3,60.7 L202.6,60.8 L202.8,60.9 L203.1,61.0 L203.3,61.1 L203.6,61.2 L203.8,61.3 L204.1,61.5 L204.3,61.7 L204.6,61.8 L204.8,61.8 L205.1,61.7 L205.3,61.4 L205.6,61.1 L205.8,60.7 L206.1,60.4 L206.3,60.2 L206.6,60.3 L206.8,60.5 L207.1,60.8 L207.3,61.3 L207.6,61.8 L207.8,62.4 L208.1,63.0 L208.3,63.8 L208.6,64.8 L208.8,66.1 L209.1,67.6 L209.3,69.1 L209.6,70.7 L209.8,72.3 L210.1,73.8 L210.3,75.1 L210.6,76.0 L210.8,76.7 L211.1,77.1 L211.3,77.3 L211.6,77.4 L211.8,77.3 L212.1,77.0 L212.3,76.5 L212.6,76.0 L212.8,75.3 L213.1,74.4 L213.3,73.5 L213.6,72.5 L213.8,71.5 L214.1,70.6 L214.3,69.6 L214.6,68.6 L214.8,67.7 L215.1,66.7 L215.3,65.7 L215.6,64.8 L215.8,64.1 L216.1,63.6 L216.3,63.5 L216.6,63.5 L216.8,63.6 L217.1,63.8 L217.3,63.8 L217.6,63.9 L217.8,63.9 L218.1,63.8 L218.3,63.6 L218.6,63.4 L218.8,63.4 L219.1,63.5 L219.3,63.5 L219.6,63.6 L219.8,63.6 L220.1,63.8 L220.3,64.0 L220.6,64.2 L220.8,64.6 L221.1,64.9 L221.3,65.1 L221.6,65.2 L221.8,65.1 L222.1,64.9 L222.3,64.8 L222.6,64.7 L222.8,64.7 L223.1,64.7 L223.3,64.6 L223.6,64.5 L223.8,64.4 L224.1,64.4 L224.3,64.7 L224.6,65.1 L224.8,65.7 L225.1,66.4 L225.3,67.1 L225.6,68.0 L225.8,68.9 L226.1,69.7 L226.3,70.6 L226.6,71.5 L226.8,72.4 L227.1,73.1 L227.3,73.6 L227.6,73.8 L227.8,73.8 L228.1,74.0 L228.3,74.1 L228.6,74.2 L228.8,74.2 L229.1,74.1 L229.3,74.0 L229.6,73.6 L229.8,72.7 L230.1,71.4 L230.3,69.7 L230.6,67.9 L230.8,66.1 L231.1,64.2 L231.3,62.4 L231.6,60.5 L231.8,58.7 L232.1,57.0 L232.3,55.4 L232.6,54.4 L232.8,53.8 L233.1,53.7 L233.3,53.6 L233.6,53.6 L233.8,53.6 L234.1,53.6 L234.3,53.5 L234.6,53.4 L234.8,53.3 L235.1,53.3 L235.3,53.5 L235.6,53.8 L235.8,54.0 L236.1,54.0 L236.3,53.9 L236.6,53.6 L236.8,53.5 L237.1,53.5 L237.3,53.5 L237.6,53.5 L237.8,53.5 L238.1,53.5 L238.3,53.6 L238.6,53.6 L238.8,53.6 L239.1,53.5 L239.3,53.4 L239.6,53.4 L239.8,53.3 L240.1,53.4 L240.3,53.5 L240.6,53.7 L240.8,54.0 L241.1,54.4 L241.3,54.9 L241.6,55.4 L241.8,56.1 L242.1,57.1 L242.3,58.6 L242.6,60.5 L242.8,62.4 L243.1,64.4 L243.3,66.4 L243.6,68.4 L243.8,70.4 L244.1,72.2 L244.3,73.8 L244.6,74.9 L244.8,75.6 L245.1,76.1 L245.3,76.3 L245.6,76.4 L245.8,76.3 L246.1,75.9 L246.3,75.5 L246.6,74.8 L246.8,73.8 L247.1,72.5 L247.3,71.2 L247.6,69.7 L247.8,68.3 L248.1,66.8 L248.3,65.4 L248.6,64.0 L248.8,62.5 L249.1,61.2 L249.3,60.0 L249.6,59.3 L249.8,58.9 L250.1,58.8 L250.3,58.7 L250.6,58.6 L250.8,58.3 L251.1,58.0 L251.3,57.9 L251.6,57.8 L251.8,57.6 L252.1,57.8 L252.3,56.9 L252.6,53.8 L252.8,49.3 L253.1,44.9 L253.3,40.4 L253.6,35.9 L253.8,31.4 L254.1,27.0 L254.3,22.5 L254.6,20.1 L254.8,26.2 L255.1,32.3 L255.3,38.4 L255.6,44.5 L255.8,50.6 L256.1,55.6 L256.3,56.2 L256.6,56.9 L256.8,57.1 L257.1,57.5 L257.3,57.8 L257.6,58.1 L257.8,58.4 L258.1,59.0 L258.3,59.6 L258.6,60.5 L258.8,61.5 L259.1,62.7 L259.3,64.2 L259.6,65.8 L259.8,67.4 L260.1,69.1 L260.3,70.8 L260.6,72.4 L260.8,73.7 L261.1,74.7 L261.3,75.3 L261.6,75.8 L261.8,76.0 L262.1,76.1 L262.3,76.0 L262.6,75.6 L262.8,75.2 L263.1,74.4 L263.3,73.4 L263.6,72.1 L263.8,70.7 L264.1,69.2 L264.3,67.7 L264.6,66.2 L264.8,64.7 L265.1,63.2 L265.3,61.7 L265.6,60.3 L265.8,59.1 L266.1,58.3 L266.3,57.8 L266.6,57.7 L266.8,57.6 L267.1,57.6 L267.3,57.5 L267.6,57.6 L267.8,57.8 L268.1,58.1 L268.3,58.2 L268.6,58.2 L268.8,58.2 L269.1,58.1 L269.3,58.1 L269.6,58.1 L269.8,58.1 L270.1,58.1 L270.3,58.1 L270.6,58.0 L270.8,57.9 L271.1,57.8 L271.3,57.9 L271.6,58.0 L271.8,58.2 L272.1,58.5 L272.3,58.6 L272.6,58.7 L272.8,58.6 L273.1,58.5 L273.3,58.2 L273.6,58.0 L273.8,57.9 L274.1,58.0 L274.3,58.3 L274.6,58.8 L274.8,59.4 L275.1,60.0 L275.3,60.8 L275.6,61.8 L275.8,63.0 L276.1,64.4 L276.3,66.0 L276.6,67.5 L276.8,69.1 L277.1,70.6 L277.3,72.1 L277.6,73.6 L277.8,74.8 L278.1,75.7 L278.3,76.4 L278.6,76.8 L278.8,77.0 L279.1,77.1 L279.3,77.0 L279.6,76.6 L279.8,76.2 L280.1,75.5 L280.3,74.6 L280.6,73.4 L280.8,72.0 L281.1,70.7 L281.3,69.3 L281.6,67.9 L281.8,66.5 L282.1,65.2 L282.3,63.8 L282.6,62.4 L282.8,61.1 L283.1,59.8 L283.3,58.7 L283.6,58.0 L283.8,57.8 L284.1,57.9 L284.3,58.1 L284.6,58.3 L284.8,58.5 L285.1,58.7 L285.3,58.9 L285.6,58.9 L285.8,59.0 L286.1,59.1 L286.3,59.1 L286.6,59.2 L286.8,59.2 L287.1,59.2 L287.3,59.2 L287.6,59.2 L287.8,59.3 L288.1,59.5 L288.3,59.5 L288.6,59.6 L288.8,59.7 L289.1,59.8 L289.3,59.9 L289.6,60.1 L289.8,60.3 L290.1,60.6 L290.3,60.8 L290.6,61.2 L290.8,61.5 L291.1,61.8 L291.3,61.9 L291.6,62.0 L291.8,62.1 L292.1,62.3 L292.3,62.8 L292.6,63.6 L292.8,64.6 L293.1,65.8 L293.3,67.1 L293.6,68.3 L293.8,69.6 L294.1,70.9 L294.3,72.1 L294.6,73.4 L294.8,74.6 L295.1,75.8 L295.3,76.8 L295.6,77.6 L295.8,78.2 L296.1,78.6 L296.3,78.8 L296.6,78.9 L296.8,78.7 L297.1,78.4 L297.3,77.9 L297.6,77.0 L297.8,75.6 L298.1,73.9 L298.3,71.9 L298.6,69.8 L298.8,67.8 L299.1,65.8 L299.3,64.0 L299.6,62.6 L299.8,61.8" fill="none" stroke="#141418" stroke-width="1.5" stroke-linejoin="round" transform="translate(0,189.4)"/>
<rect x="567.60" y="18.0" width="1.80" height="70.6" fill="#ff9a9a" fill-opacity="0.4"/>
<rect x="448.00" y="110.6" width="1.60" height="70.6" fill="#ff9a9a" fill-opacity="0.35"/>
<rect x="469.60" y="110.6" width="2.60" height="70.6" fill="#ff9a9a" fill-opacity="0.55"/>
<rect x="481.00" y="110.6" width="1.80" height="70.6" fill="#ff9a9a" fill-opacity="0.35"/>
<rect x="497.70" y="110.6" width="1.60" height="70.6" fill="#ff9a9a" fill-opacity="0.3"/>
<rect x="568.00" y="110.6" width="1.80" height="70.6" fill="#ff9a9a" fill-opacity="0.4"/>
<rect x="496.30" y="203.0" width="1.80" height="70.6" fill="#ff9a9a" fill-opacity="0.4"/>
<rect x="567.20" y="203.0" width="2.20" height="70.6" fill="#ff9a9a" fill-opacity="0.4"/>
<line x1="353.6" y1="58.3" x2="625.7" y2="58.3" stroke="#ff7a7a" stroke-width="1.25" stroke-dasharray="3.85,1.65"/>
<line x1="353.6" y1="156.0" x2="625.7" y2="156.0" stroke="#ff7a7a" stroke-width="1.25" stroke-dasharray="3.85,1.65"/>
<line x1="353.6" y1="248.4" x2="625.7" y2="248.4" stroke="#ff7a7a" stroke-width="1.25" stroke-dasharray="3.85,1.65"/>
<path d="M364.8,75.8 L365.6,72.0 L367.0,70.5 L368.4,69.0 L369.3,71.9 L370.6,69.8 L371.9,67.4 L372.9,70.2 L374.0,73.3 L375.2,74.1 L376.3,75.4 L377.5,76.8 L378.8,75.4 L380.0,74.8 L381.0,75.1 L382.0,75.9 L383.0,75.5 L384.0,75.6 L385.0,76.0 L386.0,76.6 L387.0,76.1 L388.0,75.4 L389.0,74.5 L390.0,75.0 L391.0,75.1 L392.0,76.0 L393.0,75.9 L394.0,76.2 L395.0,75.8 L396.0,75.3 L397.0,75.9 L398.0,76.2 L399.0,74.7 L400.0,74.3 L401.0,74.2 L402.0,74.2 L403.0,75.8 L404.0,76.8 L405.0,75.6 L406.0,75.7 L407.0,75.0 L408.0,75.2 L409.0,75.2 L410.0,75.5 L411.0,74.1 L412.0,74.7 L413.0,74.6 L414.0,75.3 L415.0,76.1 L416.0,76.8 L417.0,75.6 L418.0,75.5 L419.0,75.2 L420.0,74.7 L421.0,74.6 L422.0,74.9 L423.0,75.7 L424.0,75.5 L425.0,75.8 L426.0,76.9 L427.0,75.9 L428.0,75.4 L429.0,74.0 L430.0,74.6 L431.0,75.6 L432.0,76.5 L433.0,76.2 L434.0,75.9 L435.0,75.5 L436.0,74.6 L437.0,74.9 L438.0,74.5 L439.0,75.8 L440.0,75.8 L440.9,74.6 L441.9,75.3 L442.8,74.4 L443.6,75.3 L444.5,76.0 L445.8,74.4 L447.0,73.3 L447.8,71.8 L448.6,68.5 L449.6,71.4 L450.5,73.6 L451.8,74.3 L453.0,76.0 L454.0,74.9 L455.0,74.1 L456.0,72.7 L457.1,73.7 L458.2,75.3 L459.4,76.0 L460.5,77.2 L461.9,76.1 L463.2,75.0 L464.6,72.6 L466.0,71.5 L467.0,72.2 L468.0,72.5 L469.0,73.3 L470.0,72.7 L471.0,71.9 L472.0,72.7 L473.0,74.2 L474.0,75.8 L475.3,76.0 L476.7,76.9 L478.0,76.8 L479.0,74.4 L480.3,75.6 L481.7,75.2 L483.0,76.5 L484.2,76.0 L485.3,76.5 L486.5,75.1 L487.7,75.6 L488.8,75.6 L490.0,75.5 L491.0,74.3 L492.0,71.9 L493.2,74.8 L494.5,77.0 L495.8,74.7 L497.2,72.4 L498.5,70.4 L499.7,71.9 L500.8,74.3 L502.0,75.2 L503.3,74.3 L504.7,73.6 L506.0,73.0 L507.1,74.2 L508.2,74.9 L509.4,75.9 L510.5,77.0 L511.8,75.2 L513.0,74.4 L514.0,75.1 L515.0,75.6 L516.0,76.5 L517.2,77.0 L518.5,76.8 L519.8,76.5 L521.0,76.5 L522.2,75.1 L523.5,73.0 L524.8,73.6 L526.2,74.9 L527.5,75.2 L528.8,74.8 L530.0,74.4 L531.0,74.3 L532.0,73.1 L533.0,73.3 L534.0,74.3 L535.0,75.0 L536.4,74.4 L537.8,74.5 L539.1,75.5 L540.5,75.8 L541.5,69.9 L542.7,69.7 L543.8,70.4 L545.0,70.5 L546.3,71.3 L547.7,69.7 L549.0,69.9 L550.0,72.0 L551.0,71.3 L552.0,71.2 L553.0,72.6 L554.2,69.6 L555.5,66.5 L556.5,69.8 L557.5,72.6 L558.5,73.0 L559.5,73.4 L560.5,74.0 L561.6,74.7 L562.8,74.9 L563.9,74.6 L565.0,75.4 L566.0,75.8 L566.9,76.2 L568.1,23.6 L568.5,23.4 L570.0,76.2 L571.0,75.6 L572.0,75.0 L573.3,74.9 L574.7,75.9 L576.0,76.2 L577.3,75.5 L578.7,76.0 L580.0,75.2 L581.2,75.5 L582.5,75.7 L583.8,75.7 L585.0,76.2 L586.2,75.9 L587.5,74.8 L588.8,74.9 L590.0,75.2 L591.1,75.3 L592.2,74.1 L593.4,75.4 L594.5,75.0 L595.7,74.6 L596.8,76.1 L598.0,76.2 L599.2,75.8 L600.4,76.6 L601.6,76.3 L602.8,75.5 L604.0,76.2 L605.3,76.4 L606.7,76.2 L608.0,75.2 L609.0,74.1 L610.0,72.9 L611.0,72.0 L612.2,73.6 L613.5,75.4" fill="none" stroke="#0000ff" stroke-width="1.55" stroke-linejoin="round"/>
<path d="M365.1,168.8 L365.8,165.3 L367.7,173.8 L369.0,178.0 L370.0,177.4 L370.9,178.7 L371.9,178.0 L374.7,169.5 L376.0,170.7 L377.1,169.7 L378.1,169.4 L379.2,168.3 L380.3,168.1 L381.5,169.9 L382.6,171.6 L383.8,174.5 L385.2,176.2 L386.6,176.3 L388.0,177.3 L389.2,175.3 L390.4,172.1 L391.6,169.5 L393.0,171.0 L394.2,169.6 L395.3,168.9 L396.5,168.1 L400.0,176.6 L401.2,176.3 L402.5,176.6 L403.8,176.4 L405.0,176.6 L406.1,174.1 L407.3,171.0 L408.4,169.5 L409.5,168.8 L410.5,170.1 L411.6,168.6 L412.7,168.8 L413.9,169.3 L415.0,171.3 L416.2,172.3 L417.4,174.3 L418.5,173.8 L419.7,175.9 L420.8,176.5 L421.8,177.3 L422.7,174.6 L423.7,171.5 L424.6,170.2 L425.8,170.3 L427.1,169.5 L428.3,169.2 L429.5,168.8 L434.5,177.3 L435.4,175.9 L436.4,175.7 L437.3,174.5 L438.5,172.7 L439.6,171.5 L440.8,170.2 L442.0,172.3 L443.0,171.2 L444.0,170.7 L445.0,171.0 L446.0,170.3 L447.0,168.0 L448.8,153.5 L450.0,160.0 L450.8,163.7 L451.5,168.0 L452.2,170.2 L453.0,172.0 L454.0,169.5 L455.0,167.0 L455.8,164.2 L456.5,162.0 L457.2,164.7 L458.0,168.0 L459.0,170.4 L460.0,172.0 L461.0,169.8 L462.0,168.0 L462.8,166.4 L463.5,165.0 L464.2,167.5 L465.0,170.0 L466.0,162.0 L467.0,168.0 L468.0,160.0 L469.5,170.0 L470.5,156.0 L471.5,152.0 L473.0,168.0 L474.0,169.4 L475.0,169.7 L476.0,170.0 L477.0,169.6 L478.0,168.3 L479.0,168.0 L482.0,152.5 L484.0,168.0 L485.0,168.8 L486.0,171.9 L487.0,173.0 L488.0,172.6 L489.0,170.9 L490.0,170.0 L491.0,169.3 L492.0,168.5 L493.0,167.0 L494.0,166.5 L495.0,165.0 L498.6,154.0 L501.0,164.0 L502.0,168.1 L503.0,171.0 L504.3,170.4 L505.7,171.2 L507.0,170.0 L508.0,166.6 L509.0,165.2 L510.0,162.0 L510.8,161.3 L511.5,160.0 L512.8,164.5 L514.0,168.0 L515.3,170.8 L516.7,172.2 L518.0,173.0 L519.0,169.3 L520.0,167.0 L521.0,168.5 L522.0,172.0 L523.3,171.2 L524.7,168.7 L526.0,168.0 L527.0,169.7 L528.0,171.5 L529.0,171.3 L530.0,170.0 L531.0,170.5 L532.0,173.0 L533.0,173.7 L534.0,177.0 L535.0,175.7 L536.0,174.0 L537.2,174.5 L538.5,175.0 L539.8,171.4 L541.0,168.0 L542.0,170.0 L543.0,172.0 L544.0,169.7 L545.0,168.5 L546.0,169.3 L547.0,172.0 L548.0,173.9 L549.0,176.0 L550.0,173.4 L551.0,172.0 L552.0,172.5 L553.0,175.0 L554.3,173.1 L555.7,170.6 L557.0,168.5 L558.0,169.6 L559.0,169.6 L560.0,171.0 L561.0,169.6 L562.0,168.4 L563.0,168.0 L564.0,169.5 L565.0,172.0 L567.5,161.0 L569.0,151.0 L570.5,167.0 L571.2,168.9 L572.0,170.5 L573.0,169.5 L574.0,169.7 L575.0,169.0 L576.0,171.2 L577.0,173.0 L578.0,172.9 L579.0,169.5 L580.0,169.0 L581.0,173.0 L582.0,176.0 L583.0,176.6 L584.0,177.3 L585.0,178.0 L586.0,176.1 L587.0,175.7 L588.0,175.0 L589.2,171.9 L590.5,168.0 L591.8,169.5 L593.0,171.0 L594.0,170.0 L595.0,169.0 L596.2,171.3 L597.5,174.0 L598.8,175.7 L600.0,176.0 L601.0,176.3 L602.0,175.3 L603.0,177.0 L604.0,173.9 L605.0,170.5 L606.0,169.0 L607.0,168.5 L608.0,172.0 L609.0,171.0 L610.0,171.5 L611.0,170.0 L612.2,170.5 L613.5,171.0" fill="none" stroke="#0000ff" stroke-width="1.55" stroke-linejoin="round"/>
<path d="M365.0,256.8 L365.5,253.5 L366.5,258.0 L367.5,262.0 L368.8,259.3 L370.0,258.0 L371.2,257.9 L372.5,259.0 L373.2,261.4 L374.0,262.5 L375.2,263.8 L376.5,265.0 L377.5,265.5 L378.2,264.3 L379.0,263.0 L380.0,262.0 L381.0,255.0 L381.8,257.0 L382.5,259.0 L383.2,260.5 L384.0,262.0 L385.2,260.3 L386.3,258.0 L387.5,255.5 L388.8,257.9 L390.0,260.0 L390.8,261.1 L391.5,263.5 L392.5,265.0 L393.5,265.3 L394.5,265.0 L395.5,261.6 L396.5,259.0 L397.2,261.2 L398.0,262.0 L398.8,259.7 L399.5,259.0 L400.8,260.7 L402.0,262.5 L403.0,261.2 L404.0,260.0 L405.2,260.0 L406.5,261.5 L407.5,262.8 L408.5,262.0 L409.2,264.1 L410.0,264.5 L410.8,264.5 L411.5,265.0 L412.5,261.7 L413.5,257.5 L414.2,257.2 L415.0,256.5 L416.0,256.7 L417.0,260.0 L418.0,260.5 L419.0,260.6 L420.0,261.0 L421.0,261.4 L422.0,261.0 L423.0,262.0 L424.0,262.8 L425.0,263.9 L426.0,265.0 L427.2,265.2 L428.5,264.0 L429.2,263.2 L430.0,262.0 L430.5,255.0 L431.2,257.0 L432.0,259.0 L433.0,260.6 L434.0,260.0 L435.0,261.0 L435.8,260.0 L436.5,259.5 L437.2,259.4 L438.0,261.5 L439.0,262.9 L440.0,263.1 L441.0,263.0 L442.2,264.6 L443.5,265.0 L444.5,264.0 L446.0,253.0 L447.0,251.5 L448.0,256.0 L449.0,248.5 L450.0,253.5 L451.0,260.0 L452.0,260.4 L453.0,260.1 L454.0,260.0 L455.0,257.6 L456.0,255.0 L456.8,257.8 L457.5,261.0 L458.2,261.9 L459.0,263.0 L459.8,260.8 L460.5,258.5 L461.2,261.4 L462.0,262.5 L463.0,261.8 L464.0,260.5 L465.0,259.5 L465.8,256.4 L466.5,254.0 L467.8,252.6 L469.0,252.0 L469.8,251.2 L470.5,248.5 L471.2,251.1 L472.0,253.0 L473.0,256.0 L474.0,259.0 L475.0,261.3 L476.0,264.0 L476.8,263.8 L477.5,265.0 L478.2,264.5 L479.0,264.0 L480.0,257.0 L481.0,259.5 L482.0,261.0 L483.0,261.0 L484.0,261.5 L485.0,260.1 L486.0,259.0 L487.0,259.4 L488.0,260.0 L489.0,261.7 L490.0,262.4 L491.0,265.0 L491.8,263.4 L492.5,262.0 L493.2,263.2 L494.0,265.5 L495.5,255.0 L497.0,246.5 L497.8,248.8 L498.5,250.0 L500.0,259.0 L501.0,259.7 L502.0,261.7 L503.0,262.5 L504.2,263.7 L505.5,263.0 L506.2,261.8 L507.0,261.0 L507.8,262.6 L508.5,265.0 L509.2,263.1 L510.0,261.0 L511.2,261.5 L512.5,262.0 L513.8,260.4 L515.0,260.0 L516.0,260.3 L517.0,261.2 L518.0,260.0 L519.0,258.3 L520.0,257.0 L521.0,259.4 L522.0,262.0 L523.0,261.7 L524.0,262.9 L525.0,263.0 L526.0,262.4 L527.0,262.7 L528.0,263.5 L529.0,263.3 L530.0,261.5 L531.0,258.2 L532.0,256.0 L533.0,255.0 L534.0,253.6 L535.0,251.0 L536.0,251.7 L537.0,252.0 L538.0,254.8 L539.0,257.0 L540.0,259.7 L541.0,260.0 L542.0,260.6 L543.0,261.5 L544.0,260.1 L545.0,259.5 L546.2,257.7 L547.5,257.5 L548.5,258.3 L549.5,259.0 L550.8,259.4 L552.0,258.0 L552.8,259.1 L553.5,259.0 L554.8,255.7 L556.0,253.5 L556.8,255.7 L557.5,259.0 L558.2,259.7 L559.0,261.0 L560.0,260.5 L561.0,259.5 L562.0,259.0 L563.0,258.8 L564.0,258.5 L565.0,258.0 L566.1,258.1 L567.2,258.5 L568.3,209.5 L569.5,258.0 L570.5,258.7 L571.5,259.5 L572.5,258.1 L573.5,256.5 L574.2,258.9 L575.0,261.5 L576.0,261.3 L577.0,261.6 L578.0,260.0 L579.0,259.9 L580.0,259.0 L581.0,258.5 L582.3,257.5 L583.7,258.7 L585.0,258.5 L586.3,258.2 L587.7,259.3 L589.0,261.0 L590.0,261.8 L591.0,262.1 L592.0,262.0 L593.2,260.7 L594.5,259.5 L595.8,258.7 L597.0,260.0 L598.3,259.1 L599.7,258.3 L601.0,258.0 L602.0,257.9 L603.0,258.4 L604.0,256.5 L605.0,258.3 L606.0,259.4 L607.0,261.5 L608.0,258.8 L609.0,257.5 L610.0,255.5 L611.0,256.4 L612.0,256.8 L613.0,258.5" fill="none" stroke="#0000ff" stroke-width="1.55" stroke-linejoin="round"/>
<rect x="34.5" y="16.5" width="277.6" height="72.4" fill="none" stroke="#000000" stroke-width="1.0"/>
<line x1="31.9" y1="16.7" x2="34.5" y2="16.7" stroke="#000000" stroke-width="0.8"/>
<text x="29.3" y="19.6" text-anchor="end" font-size="8.0px" font-weight="normal" fill="#1a1a1a" stroke="#1a1a1a" stroke-width="0.45" textLength="4.8" lengthAdjust="spacingAndGlyphs" >4</text>
<line x1="31.9" y1="37.5" x2="34.5" y2="37.5" stroke="#000000" stroke-width="0.8"/>
<text x="29.3" y="40.4" text-anchor="end" font-size="8.0px" font-weight="normal" fill="#1a1a1a" stroke="#1a1a1a" stroke-width="0.45" textLength="4.8" lengthAdjust="spacingAndGlyphs" >2</text>
<line x1="31.9" y1="58.3" x2="34.5" y2="58.3" stroke="#000000" stroke-width="0.8"/>
<text x="29.3" y="61.2" text-anchor="end" font-size="8.0px" font-weight="normal" fill="#1a1a1a" stroke="#1a1a1a" stroke-width="0.45" textLength="4.8" lengthAdjust="spacingAndGlyphs" >0</text>
<line x1="31.9" y1="79.1" x2="34.5" y2="79.1" stroke="#000000" stroke-width="0.8"/>
<text x="29.3" y="82.0" text-anchor="end" font-size="8.0px" font-weight="normal" fill="#1a1a1a" stroke="#1a1a1a" stroke-width="0.45" textLength="9.2" lengthAdjust="spacingAndGlyphs" >−2</text>
<rect x="34.5" y="111.3" width="277.6" height="72.4" fill="none" stroke="#000000" stroke-width="1.0"/>
<line x1="31.9" y1="111.5" x2="34.5" y2="111.5" stroke="#000000" stroke-width="0.8"/>
<text x="29.3" y="114.4" text-anchor="end" font-size="8.0px" font-weight="normal" fill="#1a1a1a" stroke="#1a1a1a" stroke-width="0.45" textLength="4.8" lengthAdjust="spacingAndGlyphs" >4</text>
<line x1="31.9" y1="132.3" x2="34.5" y2="132.3" stroke="#000000" stroke-width="0.8"/>
<text x="29.3" y="135.2" text-anchor="end" font-size="8.0px" font-weight="normal" fill="#1a1a1a" stroke="#1a1a1a" stroke-width="0.45" textLength="4.8" lengthAdjust="spacingAndGlyphs" >2</text>
<line x1="31.9" y1="153.1" x2="34.5" y2="153.1" stroke="#000000" stroke-width="0.8"/>
<text x="29.3" y="156.0" text-anchor="end" font-size="8.0px" font-weight="normal" fill="#1a1a1a" stroke="#1a1a1a" stroke-width="0.45" textLength="4.8" lengthAdjust="spacingAndGlyphs" >0</text>
<line x1="31.9" y1="173.9" x2="34.5" y2="173.9" stroke="#000000" stroke-width="0.8"/>
<text x="29.3" y="176.8" text-anchor="end" font-size="8.0px" font-weight="normal" fill="#1a1a1a" stroke="#1a1a1a" stroke-width="0.45" textLength="9.2" lengthAdjust="spacingAndGlyphs" >−2</text>
<rect x="34.5" y="205.9" width="277.6" height="72.4" fill="none" stroke="#000000" stroke-width="1.0"/>
<line x1="31.9" y1="206.1" x2="34.5" y2="206.1" stroke="#000000" stroke-width="0.8"/>
<text x="29.3" y="209.0" text-anchor="end" font-size="8.0px" font-weight="normal" fill="#1a1a1a" stroke="#1a1a1a" stroke-width="0.45" textLength="4.8" lengthAdjust="spacingAndGlyphs" >4</text>
<line x1="31.9" y1="226.9" x2="34.5" y2="226.9" stroke="#000000" stroke-width="0.8"/>
<text x="29.3" y="229.8" text-anchor="end" font-size="8.0px" font-weight="normal" fill="#1a1a1a" stroke="#1a1a1a" stroke-width="0.45" textLength="4.8" lengthAdjust="spacingAndGlyphs" >2</text>
<line x1="31.9" y1="247.7" x2="34.5" y2="247.7" stroke="#000000" stroke-width="0.8"/>
<text x="29.3" y="250.6" text-anchor="end" font-size="8.0px" font-weight="normal" fill="#1a1a1a" stroke="#1a1a1a" stroke-width="0.45" textLength="4.8" lengthAdjust="spacingAndGlyphs" >0</text>
<line x1="31.9" y1="268.5" x2="34.5" y2="268.5" stroke="#000000" stroke-width="0.8"/>
<text x="29.3" y="271.4" text-anchor="end" font-size="8.0px" font-weight="normal" fill="#1a1a1a" stroke="#1a1a1a" stroke-width="0.45" textLength="9.2" lengthAdjust="spacingAndGlyphs" >−2</text>
<rect x="352.6" y="18.0" width="273.1" height="70.6" fill="none" stroke="#000000" stroke-width="1.0"/>
<line x1="350.0" y1="30.0" x2="352.6" y2="30.0" stroke="#000000" stroke-width="0.8"/>
<text x="347.8" y="32.9" text-anchor="end" font-size="8.0px" font-weight="normal" fill="#1a1a1a" stroke="#1a1a1a" stroke-width="0.45" textLength="9.5" lengthAdjust="spacingAndGlyphs" >10</text>
<line x1="350.0" y1="53.0" x2="352.6" y2="53.0" stroke="#000000" stroke-width="0.8"/>
<text x="347.8" y="55.9" text-anchor="end" font-size="8.0px" font-weight="normal" fill="#1a1a1a" stroke="#1a1a1a" stroke-width="0.45" textLength="4.8" lengthAdjust="spacingAndGlyphs" >5</text>
<line x1="350.0" y1="76.1" x2="352.6" y2="76.1" stroke="#000000" stroke-width="0.8"/>
<text x="347.8" y="79.0" text-anchor="end" font-size="8.0px" font-weight="normal" fill="#1a1a1a" stroke="#1a1a1a" stroke-width="0.45" textLength="4.8" lengthAdjust="spacingAndGlyphs" >0</text>
<rect x="352.6" y="110.6" width="273.1" height="70.6" fill="none" stroke="#000000" stroke-width="1.0"/>
<line x1="350.0" y1="122.6" x2="352.6" y2="122.6" stroke="#000000" stroke-width="0.8"/>
<text x="347.8" y="125.5" text-anchor="end" font-size="8.0px" font-weight="normal" fill="#1a1a1a" stroke="#1a1a1a" stroke-width="0.45" textLength="9.5" lengthAdjust="spacingAndGlyphs" >10</text>
<line x1="350.0" y1="145.6" x2="352.6" y2="145.6" stroke="#000000" stroke-width="0.8"/>
<text x="347.8" y="148.5" text-anchor="end" font-size="8.0px" font-weight="normal" fill="#1a1a1a" stroke="#1a1a1a" stroke-width="0.45" textLength="4.8" lengthAdjust="spacingAndGlyphs" >5</text>
<line x1="350.0" y1="168.7" x2="352.6" y2="168.7" stroke="#000000" stroke-width="0.8"/>
<text x="347.8" y="171.6" text-anchor="end" font-size="8.0px" font-weight="normal" fill="#1a1a1a" stroke="#1a1a1a" stroke-width="0.45" textLength="4.8" lengthAdjust="spacingAndGlyphs" >0</text>
<rect x="352.6" y="203.0" width="273.1" height="70.6" fill="none" stroke="#000000" stroke-width="1.0"/>
<line x1="350.0" y1="215.0" x2="352.6" y2="215.0" stroke="#000000" stroke-width="0.8"/>
<text x="347.8" y="217.9" text-anchor="end" font-size="8.0px" font-weight="normal" fill="#1a1a1a" stroke="#1a1a1a" stroke-width="0.45" textLength="9.5" lengthAdjust="spacingAndGlyphs" >10</text>
<line x1="350.0" y1="238.1" x2="352.6" y2="238.1" stroke="#000000" stroke-width="0.8"/>
<text x="347.8" y="241.0" text-anchor="end" font-size="8.0px" font-weight="normal" fill="#1a1a1a" stroke="#1a1a1a" stroke-width="0.45" textLength="4.8" lengthAdjust="spacingAndGlyphs" >5</text>
<line x1="350.0" y1="261.1" x2="352.6" y2="261.1" stroke="#000000" stroke-width="0.8"/>
<text x="347.8" y="264.0" text-anchor="end" font-size="8.0px" font-weight="normal" fill="#1a1a1a" stroke="#1a1a1a" stroke-width="0.45" textLength="4.8" lengthAdjust="spacingAndGlyphs" >0</text>
<line x1="46.9" y1="278.3" x2="46.9" y2="280.9" stroke="#000000" stroke-width="0.8"/>
<text x="46.9" y="288.8" text-anchor="middle" font-size="8.0px" font-weight="normal" fill="#1a1a1a" stroke="#1a1a1a" stroke-width="0.45" textLength="4.8" lengthAdjust="spacingAndGlyphs" >0</text>
<line x1="364.8" y1="273.6" x2="364.8" y2="276.2" stroke="#000000" stroke-width="0.8"/>
<text x="364.8" y="284.1" text-anchor="middle" font-size="8.0px" font-weight="normal" fill="#1a1a1a" stroke="#1a1a1a" stroke-width="0.45" textLength="4.8" lengthAdjust="spacingAndGlyphs" >0</text>
<line x1="68.0" y1="278.3" x2="68.0" y2="280.9" stroke="#000000" stroke-width="0.8"/>
<text x="68.0" y="288.8" text-anchor="middle" font-size="8.0px" font-weight="normal" fill="#1a1a1a" stroke="#1a1a1a" stroke-width="0.45" textLength="9.5" lengthAdjust="spacingAndGlyphs" >30</text>
<line x1="385.5" y1="273.6" x2="385.5" y2="276.2" stroke="#000000" stroke-width="0.8"/>
<text x="385.5" y="284.1" text-anchor="middle" font-size="8.0px" font-weight="normal" fill="#1a1a1a" stroke="#1a1a1a" stroke-width="0.45" textLength="9.5" lengthAdjust="spacingAndGlyphs" >30</text>
<line x1="89.1" y1="278.3" x2="89.1" y2="280.9" stroke="#000000" stroke-width="0.8"/>
<text x="89.1" y="288.8" text-anchor="middle" font-size="8.0px" font-weight="normal" fill="#1a1a1a" stroke="#1a1a1a" stroke-width="0.45" textLength="9.5" lengthAdjust="spacingAndGlyphs" >60</text>
<line x1="406.3" y1="273.6" x2="406.3" y2="276.2" stroke="#000000" stroke-width="0.8"/>
<text x="406.3" y="284.1" text-anchor="middle" font-size="8.0px" font-weight="normal" fill="#1a1a1a" stroke="#1a1a1a" stroke-width="0.45" textLength="9.5" lengthAdjust="spacingAndGlyphs" >60</text>
<line x1="110.1" y1="278.3" x2="110.1" y2="280.9" stroke="#000000" stroke-width="0.8"/>
<text x="110.1" y="288.8" text-anchor="middle" font-size="8.0px" font-weight="normal" fill="#1a1a1a" stroke="#1a1a1a" stroke-width="0.45" textLength="9.5" lengthAdjust="spacingAndGlyphs" >90</text>
<line x1="427.0" y1="273.6" x2="427.0" y2="276.2" stroke="#000000" stroke-width="0.8"/>
<text x="427.0" y="284.1" text-anchor="middle" font-size="8.0px" font-weight="normal" fill="#1a1a1a" stroke="#1a1a1a" stroke-width="0.45" textLength="9.5" lengthAdjust="spacingAndGlyphs" >90</text>
<line x1="131.2" y1="278.3" x2="131.2" y2="280.9" stroke="#000000" stroke-width="0.8"/>
<text x="131.2" y="288.8" text-anchor="middle" font-size="8.0px" font-weight="normal" fill="#1a1a1a" stroke="#1a1a1a" stroke-width="0.45" textLength="14.2" lengthAdjust="spacingAndGlyphs" >120</text>
<line x1="447.8" y1="273.6" x2="447.8" y2="276.2" stroke="#000000" stroke-width="0.8"/>
<text x="447.8" y="284.1" text-anchor="middle" font-size="8.0px" font-weight="normal" fill="#1a1a1a" stroke="#1a1a1a" stroke-width="0.45" textLength="14.2" lengthAdjust="spacingAndGlyphs" >120</text>
<line x1="152.3" y1="278.3" x2="152.3" y2="280.9" stroke="#000000" stroke-width="0.8"/>
<text x="152.3" y="288.8" text-anchor="middle" font-size="8.0px" font-weight="normal" fill="#1a1a1a" stroke="#1a1a1a" stroke-width="0.45" textLength="14.2" lengthAdjust="spacingAndGlyphs" >150</text>
<line x1="468.5" y1="273.6" x2="468.5" y2="276.2" stroke="#000000" stroke-width="0.8"/>
<text x="468.5" y="284.1" text-anchor="middle" font-size="8.0px" font-weight="normal" fill="#1a1a1a" stroke="#1a1a1a" stroke-width="0.45" textLength="14.2" lengthAdjust="spacingAndGlyphs" >150</text>
<line x1="173.4" y1="278.3" x2="173.4" y2="280.9" stroke="#000000" stroke-width="0.8"/>
<text x="173.4" y="288.8" text-anchor="middle" font-size="8.0px" font-weight="normal" fill="#1a1a1a" stroke="#1a1a1a" stroke-width="0.45" textLength="14.2" lengthAdjust="spacingAndGlyphs" >180</text>
<line x1="489.3" y1="273.6" x2="489.3" y2="276.2" stroke="#000000" stroke-width="0.8"/>
<text x="489.3" y="284.1" text-anchor="middle" font-size="8.0px" font-weight="normal" fill="#1a1a1a" stroke="#1a1a1a" stroke-width="0.45" textLength="14.2" lengthAdjust="spacingAndGlyphs" >180</text>
<line x1="194.5" y1="278.3" x2="194.5" y2="280.9" stroke="#000000" stroke-width="0.8"/>
<text x="194.5" y="288.8" text-anchor="middle" font-size="8.0px" font-weight="normal" fill="#1a1a1a" stroke="#1a1a1a" stroke-width="0.45" textLength="14.2" lengthAdjust="spacingAndGlyphs" >210</text>
<line x1="510.0" y1="273.6" x2="510.0" y2="276.2" stroke="#000000" stroke-width="0.8"/>
<text x="510.0" y="284.1" text-anchor="middle" font-size="8.0px" font-weight="normal" fill="#1a1a1a" stroke="#1a1a1a" stroke-width="0.45" textLength="14.2" lengthAdjust="spacingAndGlyphs" >210</text>
<line x1="215.5" y1="278.3" x2="215.5" y2="280.9" stroke="#000000" stroke-width="0.8"/>
<text x="215.5" y="288.8" text-anchor="middle" font-size="8.0px" font-weight="normal" fill="#1a1a1a" stroke="#1a1a1a" stroke-width="0.45" textLength="14.2" lengthAdjust="spacingAndGlyphs" >240</text>
<line x1="530.8" y1="273.6" x2="530.8" y2="276.2" stroke="#000000" stroke-width="0.8"/>
<text x="530.8" y="284.1" text-anchor="middle" font-size="8.0px" font-weight="normal" fill="#1a1a1a" stroke="#1a1a1a" stroke-width="0.45" textLength="14.2" lengthAdjust="spacingAndGlyphs" >240</text>
<line x1="236.6" y1="278.3" x2="236.6" y2="280.9" stroke="#000000" stroke-width="0.8"/>
<text x="236.6" y="288.8" text-anchor="middle" font-size="8.0px" font-weight="normal" fill="#1a1a1a" stroke="#1a1a1a" stroke-width="0.45" textLength="14.2" lengthAdjust="spacingAndGlyphs" >270</text>
<line x1="551.5" y1="273.6" x2="551.5" y2="276.2" stroke="#000000" stroke-width="0.8"/>
<text x="551.5" y="284.1" text-anchor="middle" font-size="8.0px" font-weight="normal" fill="#1a1a1a" stroke="#1a1a1a" stroke-width="0.45" textLength="14.2" lengthAdjust="spacingAndGlyphs" >270</text>
<line x1="257.7" y1="278.3" x2="257.7" y2="280.9" stroke="#000000" stroke-width="0.8"/>
<text x="257.7" y="288.8" text-anchor="middle" font-size="8.0px" font-weight="normal" fill="#1a1a1a" stroke="#1a1a1a" stroke-width="0.45" textLength="14.2" lengthAdjust="spacingAndGlyphs" >300</text>
<line x1="572.3" y1="273.6" x2="572.3" y2="276.2" stroke="#000000" stroke-width="0.8"/>
<text x="572.3" y="284.1" text-anchor="middle" font-size="8.0px" font-weight="normal" fill="#1a1a1a" stroke="#1a1a1a" stroke-width="0.45" textLength="14.2" lengthAdjust="spacingAndGlyphs" >300</text>
<line x1="278.8" y1="278.3" x2="278.8" y2="280.9" stroke="#000000" stroke-width="0.8"/>
<text x="278.8" y="288.8" text-anchor="middle" font-size="8.0px" font-weight="normal" fill="#1a1a1a" stroke="#1a1a1a" stroke-width="0.45" textLength="14.2" lengthAdjust="spacingAndGlyphs" >330</text>
<line x1="593.0" y1="273.6" x2="593.0" y2="276.2" stroke="#000000" stroke-width="0.8"/>
<text x="593.0" y="284.1" text-anchor="middle" font-size="8.0px" font-weight="normal" fill="#1a1a1a" stroke="#1a1a1a" stroke-width="0.45" textLength="14.2" lengthAdjust="spacingAndGlyphs" >330</text>
<line x1="299.9" y1="278.3" x2="299.9" y2="280.9" stroke="#000000" stroke-width="0.8"/>
<text x="299.9" y="288.8" text-anchor="middle" font-size="8.0px" font-weight="normal" fill="#1a1a1a" stroke="#1a1a1a" stroke-width="0.45" textLength="14.2" lengthAdjust="spacingAndGlyphs" >360</text>
<line x1="613.8" y1="273.6" x2="613.8" y2="276.2" stroke="#000000" stroke-width="0.8"/>
<text x="613.8" y="284.1" text-anchor="middle" font-size="8.0px" font-weight="normal" fill="#1a1a1a" stroke="#1a1a1a" stroke-width="0.45" textLength="14.2" lengthAdjust="spacingAndGlyphs" >360</text>
<text x="173.4" y="299.4" text-anchor="middle" font-size="7.6px" font-weight="normal" fill="#1a1a1a" stroke="#1a1a1a" stroke-width="0.45" textLength="17.6" lengthAdjust="spacingAndGlyphs" >Time</text>
<text x="489.3" y="294.0" text-anchor="middle" font-size="7.6px" font-weight="normal" fill="#1a1a1a" stroke="#1a1a1a" stroke-width="0.45" textLength="17.6" lengthAdjust="spacingAndGlyphs" >Time</text>
<text x="173.3" y="12.7" text-anchor="middle" font-size="9.6px" font-weight="normal" fill="#1a1a1a" stroke="#1a1a1a" stroke-width="0.5" textLength="39.1" lengthAdjust="spacingAndGlyphs" >SISVAE-p</text>
<text x="173.3" y="107.5" text-anchor="middle" font-size="9.6px" font-weight="normal" fill="#1a1a1a" stroke="#1a1a1a" stroke-width="0.5" textLength="29.5" lengthAdjust="spacingAndGlyphs" >STORN</text>
<text x="173.3" y="202.1" text-anchor="middle" font-size="9.6px" font-weight="normal" fill="#1a1a1a" stroke="#1a1a1a" stroke-width="0.5" textLength="25.0" lengthAdjust="spacingAndGlyphs" >Donut</text>
<text x="489.1" y="14.3" text-anchor="middle" font-size="9.6px" font-weight="normal" fill="#1a1a1a" stroke="#1a1a1a" stroke-width="0.5" textLength="38.5" lengthAdjust="spacingAndGlyphs" >SISVAE-p</text>
<text x="489.1" y="106.9" text-anchor="middle" font-size="9.6px" font-weight="normal" fill="#1a1a1a" stroke="#1a1a1a" stroke-width="0.5" textLength="28.3" lengthAdjust="spacingAndGlyphs" >STORN</text>
<text x="489.1" y="199.3" text-anchor="middle" font-size="9.6px" font-weight="normal" fill="#1a1a1a" stroke="#1a1a1a" stroke-width="0.5" textLength="25.0" lengthAdjust="spacingAndGlyphs" >Donut</text>
<text x="0.0" y="0.0" text-anchor="middle" font-size="9.3px" font-weight="normal" fill="#1a1a1a" stroke="#1a1a1a" stroke-width="0.3" textLength="76.6" lengthAdjust="spacingAndGlyphs" transform="translate(16.9,152.7) rotate(-90)">observation value</text>
<text x="0.0" y="0.0" text-anchor="middle" font-size="9.3px" font-weight="normal" fill="#1a1a1a" stroke="#1a1a1a" stroke-width="0.3" textLength="61.0" lengthAdjust="spacingAndGlyphs" transform="translate(339.6,151.2) rotate(-90)">anomaly score</text>
<rect x="224.5" y="4.9" width="90.6" height="11.6" rx="1" fill="#fff" fill-opacity="0.8" stroke="#d8d8d8" stroke-width="0.7"/>
<rect x="226.8" y="7.4" width="14.8" height="5.7" fill="#ebebfc"/>
<text x="247.5" y="13.1" text-anchor="start" font-size="7.3px" font-weight="normal" fill="#1a1a1a" stroke="#1a1a1a" stroke-width="0.15" textLength="64.8" lengthAdjust="spacingAndGlyphs" >estimated density</text>
<rect x="538.6" y="1.4" width="95.4" height="22.3" rx="1" fill="#fff" fill-opacity="0.8" stroke="#d8d8d8" stroke-width="0.7"/>
<line x1="540.9" y1="7.2" x2="556.0" y2="7.2" stroke="#ff7a7a" stroke-width="1.25" stroke-dasharray="3.85,1.65"/>
<rect x="540.7" y="14.1" width="15.1" height="6.2" fill="#fcdcdc"/>
<text x="561.3" y="9.6" text-anchor="start" font-size="7.3px" font-weight="normal" fill="#1a1a1a" stroke="#1a1a1a" stroke-width="0.15" textLength="32.7" lengthAdjust="spacingAndGlyphs" >threshold</text>
<text x="561.3" y="19.9" text-anchor="start" font-size="7.3px" font-weight="normal" fill="#1a1a1a" stroke="#1a1a1a" stroke-width="0.15" textLength="69.8" lengthAdjust="spacingAndGlyphs" >detected anomalies</text>
<text x="70.8" y="332.4" font-size="21.0px" font-family="Liberation Serif, serif" fill="#000" stroke="#000" stroke-width="0.3">(b)</text>
<text x="103.4" y="332.4" font-size="21.0px" font-family="Liberation Serif, serif" fill="#000" stroke="#000" stroke-width="0.3">density</text>
<text x="170.6" y="332.4" font-size="21.0px" font-family="Liberation Serif, serif" fill="#000" stroke="#000" stroke-width="0.3">estimation</text>
<text x="363.4" y="332.4" font-size="21.0px" font-family="Liberation Serif, serif" fill="#000" stroke="#000" stroke-width="0.3">(c)</text>
<text x="395.2" y="332.4" font-size="21.0px" font-family="Liberation Serif, serif" fill="#000" stroke="#000" stroke-width="0.3">anomaly</text>
<text x="473.8" y="332.4" font-size="21.0px" font-family="Liberation Serif, serif" fill="#000" stroke="#000" stroke-width="0.3">detection</text>
<text x="557.8" y="332.4" font-size="21.0px" font-family="Liberation Serif, serif" fill="#000" stroke="#000" stroke-width="0.3">score</text>
<text x="0.4" y="379.6" font-size="20.6px" font-family="Liberation Serif, serif" fill="#000" stroke="#000" stroke-width="0.3">Fig.</text>
<text x="40.8" y="379.6" font-size="20.6px" font-family="Liberation Serif, serif" fill="#000" stroke="#000" stroke-width="0.3">10.</text>
<text x="81.0" y="379.6" font-size="20.6px" font-family="Liberation Serif, serif" fill="#000" stroke="#000" stroke-width="0.3">Example</text>
<text x="153.2" y="379.6" font-size="20.6px" font-family="Liberation Serif, serif" fill="#000" stroke="#000" stroke-width="0.3">of</text>
<text x="197.4" y="379.6" font-size="20.6px" font-family="Liberation Serif, serif" fill="#000" stroke="#000" stroke-width="0.3">time</text>
<text x="240.0" y="379.6" font-size="20.6px" font-family="Liberation Serif, serif" fill="#000" stroke="#000" stroke-width="0.3">series</text>
<text x="295.4" y="379.6" font-size="20.6px" font-family="Liberation Serif, serif" fill="#000" stroke="#000" stroke-width="0.3">sample</text>
<text x="361.6" y="379.6" font-size="20.6px" font-family="Liberation Serif, serif" fill="#000" stroke="#000" stroke-width="0.3">with</text>
<text x="405.6" y="379.6" font-size="20.6px" font-family="Liberation Serif, serif" fill="#000" stroke="#000" stroke-width="0.3">point-level</text>
<text x="502.2" y="379.6" font-size="20.6px" font-family="Liberation Serif, serif" fill="#000" stroke="#000" stroke-width="0.3">anomaly.</text>
<text x="582.4" y="379.6" font-size="20.6px" font-family="Liberation Serif, serif" fill="#000" stroke="#000" stroke-width="0.3">Note</text>
<text x="622.0" y="379.6" font-size="20.6px" font-family="Liberation Serif, serif" fill="#000" stroke="#000" stroke-width="0.3">that</text>
</svg></body></html>
